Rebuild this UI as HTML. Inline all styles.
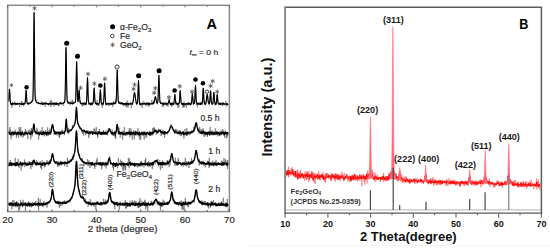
<!DOCTYPE html>
<html><head><meta charset="utf-8"><style>
html,body{margin:0;padding:0;background:#fff;width:550px;height:250px;overflow:hidden}
svg{display:block}
text{font-family:"Liberation Sans",sans-serif}
.at{font-size:9.6px;fill:#222;stroke:#444;stroke-width:0.22px}
.bt{font-size:9px;font-weight:bold;fill:#111}
.rl{font-size:5.6px;fill:#111;stroke:#333;stroke-width:0.18px}
.lg{font-size:8.6px;fill:#222;stroke:#444;stroke-width:0.22px}
.lb{font-size:9.1px;font-weight:bold;fill:#1a1a1a}
</style></head><body>
<svg width="550" height="250" viewBox="0 0 550 250">
<rect width="550" height="250" fill="#fff"/>
<g>
<polyline points="8.60,101.79 8.90,96.59 9.20,91.53 9.47,89.48 9.50,88.95 9.80,92.63 10.10,98.32 10.40,102.75 10.70,102.93 11.00,103.91 11.30,104.75 11.60,103.62 11.90,107.83 12.20,104.18 12.50,102.09 12.80,104.16 13.10,104.79 13.40,104.15 13.70,103.98 14.00,103.00 14.30,105.55 14.60,104.83 14.90,101.42 15.20,102.68 15.50,104.26 15.80,104.29 16.10,103.34 16.40,104.58 16.70,104.49 17.00,102.77 17.30,103.98 17.60,105.04 17.90,102.87 18.20,103.65 18.50,103.01 18.80,104.15 19.10,103.79 19.40,105.43 19.70,107.08 20.00,104.37 20.30,104.17 20.60,103.42 20.90,103.99 21.20,103.60 21.50,100.94 21.80,105.34 22.10,104.25 22.40,102.10 22.70,103.12 23.00,103.46 23.30,102.77 23.60,105.93 23.90,104.44 24.20,104.56 24.50,104.44 24.80,103.56 25.10,102.45 25.40,100.91 25.70,95.30 26.00,91.96 26.10,90.12 26.30,92.84 26.60,97.24 26.90,102.40 27.20,103.77 27.50,103.19 27.80,104.60 28.10,104.82 28.40,102.82 28.70,104.80 29.00,103.65 29.30,103.76 29.60,103.19 29.90,103.15 30.20,104.18 30.50,102.70 30.80,103.08 31.10,102.14 31.40,102.18 31.70,100.36 32.00,101.57 32.30,101.57 32.60,100.71 32.90,99.30 33.20,89.86 33.50,66.83 33.80,30.63 34.08,12.47 34.10,12.63 34.40,34.01 34.70,70.31 35.00,92.20 35.30,98.63 35.60,100.10 35.90,99.92 36.20,100.89 36.50,99.69 36.80,102.49 37.10,102.66 37.40,102.37 37.70,102.58 38.00,101.81 38.30,102.06 38.60,103.53 38.90,103.01 39.20,103.69 39.50,103.16 39.80,103.24 40.10,103.42 40.40,103.85 40.70,104.36 41.00,104.94 41.30,102.59 41.60,101.21 41.90,103.48 42.20,103.79 42.50,102.08 42.80,102.68 43.10,104.71 43.40,102.70 43.70,104.77 44.00,104.82 44.30,102.91 44.60,101.75 44.90,103.36 45.20,106.90 45.50,103.35 45.80,103.21 46.10,102.10 46.40,103.12 46.70,103.10 47.00,103.63 47.30,104.07 47.60,103.30 47.90,104.40 48.20,103.26 48.50,105.00 48.80,105.27 49.10,105.20 49.40,103.79 49.70,102.55 50.00,103.21 50.30,101.09 50.60,104.38 50.90,106.99 51.20,99.86 51.50,104.29 51.80,102.52 52.10,102.54 52.40,103.95 52.70,104.08 53.00,102.71 53.30,102.08 53.60,104.39 53.90,104.28 54.20,106.65 54.50,103.82 54.80,102.74 55.10,103.94 55.40,105.07 55.70,102.33 56.00,104.67 56.30,103.59 56.60,103.76 56.90,103.31 57.20,103.94 57.50,103.81 57.80,104.17 58.10,103.35 58.40,106.22 58.70,103.13 59.00,106.11 59.30,104.59 59.60,102.72 59.90,103.30 60.20,102.61 60.50,101.64 60.80,102.90 61.10,103.84 61.40,104.31 61.70,103.36 62.00,103.56 62.30,103.25 62.60,103.42 62.90,105.96 63.20,105.61 63.50,102.68 63.80,103.33 64.10,102.57 64.40,101.87 64.70,102.09 65.00,98.23 65.30,87.92 65.60,68.39 65.90,48.98 66.01,47.91 66.20,52.61 66.50,74.04 66.80,92.71 67.10,99.95 67.40,101.38 67.70,103.82 68.00,103.17 68.30,102.42 68.60,102.63 68.90,102.57 69.20,102.37 69.50,102.94 69.80,103.78 70.10,102.19 70.40,105.09 70.70,101.31 71.00,102.32 71.30,103.84 71.60,102.71 71.90,102.78 72.20,99.68 72.50,102.66 72.80,100.82 73.10,102.17 73.40,102.57 73.70,103.18 74.00,102.78 74.30,102.69 74.60,102.94 74.90,102.10 75.20,102.21 75.50,100.86 75.80,98.51 76.10,84.70 76.40,68.18 76.65,61.74 76.70,61.51 77.00,73.60 77.30,89.69 77.60,98.70 77.90,102.41 78.20,100.64 78.50,98.91 78.80,92.66 79.09,90.35 79.10,89.73 79.40,93.89 79.70,98.86 80.00,102.12 80.30,101.77 80.60,100.78 80.90,104.03 81.20,103.12 81.50,104.72 81.80,103.28 82.10,104.43 82.40,106.79 82.70,102.82 83.00,105.17 83.30,103.79 83.60,105.11 83.90,103.66 84.20,105.63 84.50,103.83 84.80,101.81 85.10,104.24 85.40,103.85 85.70,104.38 86.00,104.83 86.30,103.56 86.60,101.08 86.90,95.21 87.20,83.68 87.50,77.47 87.51,77.86 87.80,83.32 88.10,93.98 88.40,100.77 88.70,101.03 89.00,103.71 89.30,104.36 89.60,102.92 89.90,103.99 90.20,103.94 90.50,105.76 90.80,102.65 91.10,102.74 91.40,105.17 91.70,103.97 92.00,101.94 92.30,104.89 92.60,103.94 92.90,103.73 93.20,103.29 93.50,99.64 93.80,92.84 94.10,88.21 94.16,88.13 94.40,90.02 94.70,96.22 95.00,101.35 95.30,101.80 95.60,104.01 95.90,103.41 96.20,102.34 96.50,105.14 96.80,105.01 97.10,99.96 97.40,102.58 97.70,105.89 98.00,103.51 98.30,104.58 98.60,103.18 98.90,103.66 99.20,105.95 99.50,102.35 99.80,96.43 100.10,92.76 100.37,89.41 100.40,88.94 100.70,93.79 101.00,98.63 101.30,103.25 101.60,104.55 101.90,102.96 102.20,107.80 102.50,103.29 102.80,105.60 103.10,103.81 103.40,105.11 103.70,100.18 104.00,95.87 104.30,87.02 104.58,82.70 104.60,83.25 104.90,87.60 105.20,97.10 105.50,102.01 105.80,103.34 106.10,105.58 106.40,103.72 106.70,102.85 107.00,104.41 107.30,103.59 107.60,104.03 107.90,104.06 108.20,105.31 108.50,103.52 108.80,104.89 109.10,105.93 109.40,103.58 109.70,104.19 110.00,103.97 110.30,105.43 110.60,103.65 110.90,103.72 111.20,103.11 111.50,104.33 111.80,102.29 112.10,103.79 112.40,103.34 112.70,106.82 113.00,104.54 113.30,101.06 113.60,104.23 113.90,103.71 114.20,102.59 114.50,103.99 114.80,103.60 115.10,103.90 115.40,99.55 115.70,103.89 116.00,101.86 116.30,100.75 116.60,91.66 116.90,77.57 117.20,69.92 117.22,69.78 117.50,76.63 117.80,89.52 118.10,98.99 118.40,102.02 118.70,103.39 119.00,101.59 119.30,102.39 119.60,102.60 119.90,101.31 120.20,103.77 120.50,103.35 120.80,103.34 121.10,103.82 121.40,103.23 121.70,102.34 122.00,102.10 122.30,102.55 122.60,104.82 122.90,103.12 123.20,103.82 123.50,106.14 123.80,103.50 124.10,103.14 124.40,104.19 124.70,103.49 125.00,105.70 125.30,103.13 125.60,106.36 125.90,104.59 126.20,104.95 126.50,103.96 126.80,107.27 127.10,100.50 127.40,102.51 127.70,106.10 128.00,107.78 128.30,104.04 128.60,105.46 128.90,104.96 129.20,103.23 129.50,103.89 129.80,104.35 130.10,103.54 130.40,102.09 130.70,103.58 131.00,103.93 131.30,107.81 131.60,105.72 131.90,105.55 132.20,105.32 132.50,103.42 132.80,103.38 133.10,102.28 133.40,100.37 133.70,96.53 134.00,94.61 134.30,93.44 134.51,92.34 134.60,92.67 134.90,93.57 135.20,95.40 135.50,98.67 135.80,100.55 136.10,102.55 136.40,102.67 136.70,103.20 137.00,104.26 137.30,103.56 137.60,101.03 137.90,94.72 138.20,85.84 138.50,80.48 138.50,80.73 138.80,86.06 139.10,95.73 139.40,100.32 139.70,103.45 140.00,102.24 140.30,104.46 140.60,103.86 140.90,104.11 141.20,104.04 141.50,103.61 141.80,104.36 142.10,107.84 142.40,103.90 142.70,103.46 143.00,101.18 143.30,104.77 143.60,103.94 143.90,103.22 144.20,104.63 144.50,104.46 144.80,104.71 145.10,104.90 145.40,103.55 145.70,106.15 146.00,106.11 146.30,105.79 146.60,102.53 146.90,104.30 147.20,102.20 147.50,105.13 147.80,105.22 148.10,103.88 148.40,103.74 148.70,106.89 149.00,104.34 149.30,103.66 149.60,105.60 149.90,103.78 150.20,105.14 150.50,103.88 150.80,103.77 151.10,103.78 151.40,103.16 151.70,99.87 152.00,102.93 152.30,103.58 152.60,102.56 152.90,103.85 153.20,101.46 153.50,103.11 153.80,100.06 154.10,103.86 154.40,101.04 154.70,99.49 155.00,97.33 155.30,97.02 155.35,97.21 155.60,97.60 155.90,98.93 156.20,100.76 156.50,100.22 156.80,103.32 157.10,101.99 157.40,104.34 157.70,102.54 158.00,99.42 158.30,91.96 158.60,82.30 158.90,76.20 158.90,75.35 159.20,81.08 159.50,92.83 159.80,99.43 160.10,102.72 160.40,102.65 160.70,101.32 161.00,103.23 161.30,103.01 161.60,102.99 161.90,104.58 162.20,106.87 162.50,103.24 162.80,101.92 163.10,102.37 163.40,103.22 163.70,106.53 164.00,102.95 164.30,103.92 164.60,104.00 164.90,103.73 165.20,102.08 165.50,103.24 165.80,103.35 166.10,103.83 166.40,105.91 166.70,104.37 167.00,102.36 167.30,105.38 167.60,104.03 167.90,106.61 168.20,105.83 168.50,101.30 168.80,101.93 169.10,99.85 169.10,99.32 169.40,101.25 169.70,99.30 170.00,103.85 170.30,104.76 170.60,103.53 170.90,104.80 171.20,104.00 171.50,106.98 171.80,103.19 172.10,101.76 172.40,105.58 172.70,103.17 173.00,103.68 173.30,103.62 173.60,105.08 173.90,104.58 174.20,102.02 174.50,97.85 174.80,95.52 174.86,94.36 175.10,95.71 175.40,99.70 175.70,103.25 176.00,102.24 176.30,101.40 176.60,103.94 176.90,103.49 177.20,105.19 177.50,103.73 177.80,107.85 178.10,104.57 178.40,104.24 178.70,106.70 179.00,107.45 179.30,103.63 179.60,98.65 179.90,93.00 180.18,90.72 180.20,90.69 180.50,94.07 180.80,99.85 181.10,102.11 181.40,104.05 181.70,104.98 182.00,103.70 182.30,104.14 182.60,104.72 182.90,107.88 183.20,103.25 183.50,107.04 183.80,105.10 184.10,101.43 184.40,107.09 184.70,103.79 185.00,104.99 185.30,103.11 185.60,104.58 185.90,104.60 186.20,107.88 186.50,104.14 186.80,103.09 187.10,105.09 187.40,103.00 187.70,104.43 188.00,103.72 188.30,105.39 188.60,102.11 188.90,102.50 189.20,103.40 189.50,103.30 189.80,104.92 190.10,103.08 190.40,105.74 190.70,103.99 191.00,104.65 191.30,102.07 191.60,101.68 191.90,98.50 192.20,94.41 192.38,93.26 192.50,94.96 192.80,97.59 193.10,102.07 193.40,103.78 193.70,102.25 194.00,103.09 194.30,103.48 194.60,101.70 194.90,97.06 195.20,89.37 195.48,84.99 195.50,85.00 195.80,89.83 196.10,97.76 196.40,104.42 196.70,104.94 197.00,104.02 197.30,106.29 197.60,107.38 197.90,102.19 198.20,104.33 198.50,102.94 198.80,103.74 199.10,104.28 199.40,104.01 199.70,104.86 200.00,101.66 200.30,103.62 200.60,103.71 200.90,102.56 201.20,101.81 201.50,103.22 201.80,103.51 202.10,102.16 202.40,102.35 202.70,97.15 203.00,91.07 203.24,87.98 203.30,89.19 203.60,92.13 203.90,100.26 204.20,102.41 204.50,100.05 204.80,104.17 205.10,101.77 205.40,104.65 205.70,102.77 206.00,102.48 206.30,102.11 206.60,97.57 206.90,95.93 207.20,94.76 207.23,94.39 207.50,95.25 207.80,97.83 208.10,101.57 208.40,102.20 208.70,102.22 209.00,104.54 209.30,101.95 209.60,103.92 209.90,100.48 210.20,94.96 210.50,91.06 210.56,90.46 210.80,92.70 211.10,98.55 211.40,102.75 211.70,103.41 212.00,103.76 212.30,103.66 212.60,104.35 212.90,103.57 213.20,100.27 213.50,96.77 213.80,92.27 213.88,92.21 214.10,94.00 214.40,98.80 214.70,101.88 215.00,105.46 215.30,103.78 215.60,104.79 215.90,105.07 216.20,101.66 216.50,104.39 216.80,97.45 217.10,94.93 217.21,94.45 217.40,95.34 217.70,99.20 218.00,103.07 218.30,103.77 218.60,103.10 218.90,103.35 219.20,103.43 219.50,103.47 219.80,104.30 220.10,103.32 220.40,103.95 220.70,102.16 221.00,103.66 221.30,105.34 221.60,104.62 221.90,103.16 222.20,102.99 222.50,106.06 222.80,104.25 223.10,102.56 223.40,104.40 223.70,103.90 224.00,105.19 224.30,104.18 224.60,103.87 224.90,103.37 225.20,102.84 225.50,102.01 225.80,100.80 226.10,106.35 226.40,105.04 226.70,103.36 227.00,104.86 227.30,103.59 227.60,103.58 227.90,105.54 228.20,104.54" fill="none" stroke="#444" stroke-width="0.5"/><polyline points="8.60,101.40 8.90,97.45 9.20,91.83 9.47,89.37 9.50,89.38 9.80,92.74 10.10,98.43 10.40,102.30 10.70,103.78 11.00,104.25 11.30,104.74 11.60,103.62 11.90,103.88 12.20,104.55 12.50,103.33 12.80,103.98 13.10,103.58 13.40,103.84 13.70,104.04 14.00,103.09 14.30,103.45 14.60,103.29 14.90,103.75 15.20,103.57 15.50,104.44 15.80,103.60 16.10,104.51 16.40,103.67 16.70,103.94 17.00,103.85 17.30,103.83 17.60,103.38 17.90,103.95 18.20,103.97 18.50,103.91 18.80,104.06 19.10,103.49 19.40,103.69 19.70,103.55 20.00,103.14 20.30,103.94 20.60,103.55 20.90,103.76 21.20,104.66 21.50,103.87 21.80,103.81 22.10,104.18 22.40,104.24 22.70,104.45 23.00,103.55 23.30,104.43 23.60,103.68 23.90,103.28 24.20,103.35 24.50,104.11 24.80,103.86 25.10,103.30 25.40,100.20 25.70,95.20 26.00,90.69 26.10,90.29 26.30,91.72 26.60,97.13 26.90,101.62 27.20,102.84 27.50,103.87 27.80,103.26 28.10,103.54 28.40,103.67 28.70,103.19 29.00,102.97 29.30,103.42 29.60,103.07 29.90,102.86 30.20,103.13 30.50,102.73 30.80,102.76 31.10,102.20 31.40,102.44 31.70,101.76 32.00,101.60 32.30,100.93 32.60,100.97 32.90,98.86 33.20,90.51 33.50,66.46 33.80,30.13 34.08,12.48 34.10,12.56 34.40,34.20 34.70,70.27 35.00,92.15 35.30,99.10 35.60,100.88 35.90,101.14 36.20,101.74 36.50,102.11 36.80,102.63 37.10,102.53 37.40,102.46 37.70,102.98 38.00,102.93 38.30,103.39 38.60,102.93 38.90,103.66 39.20,103.33 39.50,103.41 39.80,103.73 40.10,103.23 40.40,103.28 40.70,103.68 41.00,103.49 41.30,103.56 41.60,103.42 41.90,103.48 42.20,103.93 42.50,104.36 42.80,103.12 43.10,104.23 43.40,103.95 43.70,104.14 44.00,103.76 44.30,103.42 44.60,103.63 44.90,103.36 45.20,103.08 45.50,103.70 45.80,103.83 46.10,103.63 46.40,103.82 46.70,103.15 47.00,104.16 47.30,103.69 47.60,103.77 47.90,104.04 48.20,103.54 48.50,104.77 48.80,104.25 49.10,104.25 49.40,103.83 49.70,103.50 50.00,103.97 50.30,103.49 50.60,103.86 50.90,103.86 51.20,104.25 51.50,103.94 51.80,103.83 52.10,104.31 52.40,103.73 52.70,103.56 53.00,103.57 53.30,104.33 53.60,103.78 53.90,103.54 54.20,103.00 54.50,103.35 54.80,103.87 55.10,103.97 55.40,104.38 55.70,103.47 56.00,103.92 56.30,104.22 56.60,102.85 56.90,104.59 57.20,103.27 57.50,103.26 57.80,104.04 58.10,103.83 58.40,104.12 58.70,103.89 59.00,103.74 59.30,103.56 59.60,103.30 59.90,103.78 60.20,102.84 60.50,103.44 60.80,103.76 61.10,103.03 61.40,103.69 61.70,103.68 62.00,103.30 62.30,103.15 62.60,103.29 62.90,103.21 63.20,102.80 63.50,103.35 63.80,102.99 64.10,102.62 64.40,102.43 64.70,101.70 65.00,98.40 65.30,88.34 65.60,67.61 65.90,49.13 66.01,47.41 66.20,52.79 66.50,74.23 66.80,92.35 67.10,99.39 67.40,101.85 67.70,102.19 68.00,101.80 68.30,102.98 68.60,102.66 68.90,102.61 69.20,103.08 69.50,102.86 69.80,103.23 70.10,103.04 70.40,102.90 70.70,102.85 71.00,103.54 71.30,103.31 71.60,103.02 71.90,103.08 72.20,102.96 72.50,103.98 72.80,103.34 73.10,103.23 73.40,103.62 73.70,102.84 74.00,102.61 74.30,102.69 74.60,102.77 74.90,102.50 75.20,102.19 75.50,101.28 75.80,96.80 76.10,84.87 76.40,68.32 76.65,61.89 76.70,62.19 77.00,73.71 77.30,89.95 77.60,98.87 77.90,101.42 78.20,100.79 78.50,97.72 78.80,92.65 79.09,90.07 79.10,90.08 79.40,93.28 79.70,98.88 80.00,101.95 80.30,103.21 80.60,103.35 80.90,103.10 81.20,103.64 81.50,103.57 81.80,104.03 82.10,103.80 82.40,103.13 82.70,103.57 83.00,103.60 83.30,103.63 83.60,103.20 83.90,103.04 84.20,103.64 84.50,103.84 84.80,103.25 85.10,104.44 85.40,103.99 85.70,103.55 86.00,104.49 86.30,102.81 86.60,101.08 86.90,94.71 87.20,83.98 87.50,77.70 87.51,77.69 87.80,83.16 88.10,93.98 88.40,101.03 88.70,102.90 89.00,104.07 89.30,103.40 89.60,103.45 89.90,104.07 90.20,103.62 90.50,104.54 90.80,104.35 91.10,103.16 91.40,103.88 91.70,103.76 92.00,104.67 92.30,103.60 92.60,103.56 92.90,103.58 93.20,102.62 93.50,99.15 93.80,92.90 94.10,88.11 94.16,87.93 94.40,90.30 94.70,96.83 95.00,101.41 95.30,102.93 95.60,103.66 95.90,103.34 96.20,103.32 96.50,104.27 96.80,103.78 97.10,103.61 97.40,103.91 97.70,103.61 98.00,103.87 98.30,104.55 98.60,103.82 98.90,103.57 99.20,103.13 99.50,102.39 99.80,98.30 100.10,92.56 100.37,89.93 100.40,89.98 100.70,93.63 101.00,99.39 101.30,102.71 101.60,103.54 101.90,104.32 102.20,103.82 102.50,103.01 102.80,103.33 103.10,103.77 103.40,103.52 103.70,101.24 104.00,95.79 104.30,87.18 104.58,82.94 104.60,82.95 104.90,88.12 105.20,96.73 105.50,101.71 105.80,103.97 106.10,104.19 106.40,104.49 106.70,104.00 107.00,103.88 107.30,103.92 107.60,103.95 107.90,103.11 108.20,103.76 108.50,103.68 108.80,103.96 109.10,103.93 109.40,103.68 109.70,103.63 110.00,103.27 110.30,103.89 110.60,103.59 110.90,103.62 111.20,104.15 111.50,104.12 111.80,103.59 112.10,104.32 112.40,103.93 112.70,103.65 113.00,103.26 113.30,103.23 113.60,103.84 113.90,102.75 114.20,103.98 114.50,103.54 114.80,103.09 115.10,103.62 115.40,103.04 115.70,102.39 116.00,102.01 116.30,99.43 116.60,91.55 116.90,78.28 117.20,70.22 117.22,70.18 117.50,76.61 117.80,90.01 118.10,98.83 118.40,101.75 118.70,102.13 119.00,103.22 119.30,102.97 119.60,103.47 119.90,103.27 120.20,102.86 120.50,103.18 120.80,104.00 121.10,103.28 121.40,103.73 121.70,102.70 122.00,103.31 122.30,104.00 122.60,102.94 122.90,104.09 123.20,103.51 123.50,103.48 123.80,104.29 124.10,103.55 124.40,104.19 124.70,103.62 125.00,103.93 125.30,104.21 125.60,104.23 125.90,103.72 126.20,102.92 126.50,104.51 126.80,103.61 127.10,104.34 127.40,103.52 127.70,103.68 128.00,103.89 128.30,103.84 128.60,104.64 128.90,103.17 129.20,103.65 129.50,103.97 129.80,104.04 130.10,103.88 130.40,103.95 130.70,104.28 131.00,103.65 131.30,103.65 131.60,103.82 131.90,104.09 132.20,103.15 132.50,104.06 132.80,102.62 133.10,101.35 133.40,99.52 133.70,97.03 134.00,94.62 134.30,92.94 134.51,92.57 134.60,92.65 134.90,93.80 135.20,96.04 135.50,98.64 135.80,100.43 136.10,102.25 136.40,103.53 136.70,104.22 137.00,103.67 137.30,102.97 137.60,101.42 137.90,95.61 138.20,85.91 138.50,80.57 138.50,80.56 138.80,85.72 139.10,95.42 139.40,101.69 139.70,103.61 140.00,104.81 140.30,103.87 140.60,105.02 140.90,103.45 141.20,104.46 141.50,104.32 141.80,104.20 142.10,103.57 142.40,103.82 142.70,103.40 143.00,103.89 143.30,103.98 143.60,104.10 143.90,103.39 144.20,103.58 144.50,103.01 144.80,103.89 145.10,103.45 145.40,104.28 145.70,103.64 146.00,104.06 146.30,103.70 146.60,103.84 146.90,103.77 147.20,103.37 147.50,104.19 147.80,103.50 148.10,104.35 148.40,102.86 148.70,103.64 149.00,104.16 149.30,104.16 149.60,103.05 149.90,103.89 150.20,103.88 150.50,103.91 150.80,103.65 151.10,103.48 151.40,103.86 151.70,104.00 152.00,104.15 152.30,103.72 152.60,103.42 152.90,104.00 153.20,103.14 153.50,103.24 153.80,102.89 154.10,102.27 154.40,100.95 154.70,99.40 155.00,97.56 155.30,96.73 155.35,96.62 155.60,96.95 155.90,98.33 156.20,99.99 156.50,101.96 156.80,102.80 157.10,103.06 157.40,102.81 157.70,102.00 158.00,99.91 158.30,92.75 158.60,81.42 158.90,75.29 158.90,75.29 159.20,81.47 159.50,92.80 159.80,100.00 160.10,102.48 160.40,102.73 160.70,103.55 161.00,103.41 161.30,103.36 161.60,103.60 161.90,103.31 162.20,103.45 162.50,104.05 162.80,103.99 163.10,103.71 163.40,103.14 163.70,104.65 164.00,103.91 164.30,104.12 164.60,103.40 164.90,104.01 165.20,104.03 165.50,103.94 165.80,104.29 166.10,103.16 166.40,104.32 166.70,103.70 167.00,103.66 167.30,103.86 167.60,104.03 167.90,103.89 168.20,103.34 168.50,102.62 168.80,101.36 169.10,100.06 169.10,99.90 169.40,101.09 169.70,102.74 170.00,103.23 170.30,104.32 170.60,103.35 170.90,104.10 171.20,104.65 171.50,103.43 171.80,103.72 172.10,103.58 172.40,104.44 172.70,103.62 173.00,103.86 173.30,104.05 173.60,104.18 173.90,103.46 174.20,101.00 174.50,97.30 174.80,94.71 174.86,94.58 175.10,95.99 175.40,99.70 175.70,102.61 176.00,104.16 176.30,103.27 176.60,103.80 176.90,103.26 177.20,104.41 177.50,103.95 177.80,103.50 178.10,103.22 178.40,103.92 178.70,103.91 179.00,103.57 179.30,102.80 179.60,98.73 179.90,93.38 180.18,90.71 180.20,90.69 180.50,93.99 180.80,99.60 181.10,102.27 181.40,103.45 181.70,103.37 182.00,104.09 182.30,104.64 182.60,103.33 182.90,103.90 183.20,104.96 183.50,103.64 183.80,104.14 184.10,104.13 184.40,103.69 184.70,104.26 185.00,104.04 185.30,103.85 185.60,103.78 185.90,104.41 186.20,103.95 186.50,103.59 186.80,103.69 187.10,104.01 187.40,104.07 187.70,103.33 188.00,104.25 188.30,103.41 188.60,103.17 188.90,103.76 189.20,104.03 189.50,104.28 189.80,103.43 190.10,103.75 190.40,104.31 190.70,103.87 191.00,104.30 191.30,103.75 191.60,101.68 191.90,98.49 192.20,94.68 192.38,93.71 192.50,94.25 192.80,97.81 193.10,101.41 193.40,104.18 193.70,103.48 194.00,103.60 194.30,103.43 194.60,101.76 194.90,96.80 195.20,89.08 195.48,85.38 195.50,85.42 195.80,90.07 196.10,97.75 196.40,102.35 196.70,103.06 197.00,104.17 197.30,103.71 197.60,103.47 197.90,103.92 198.20,104.16 198.50,103.50 198.80,103.47 199.10,104.14 199.40,104.31 199.70,103.68 200.00,103.98 200.30,103.90 200.60,104.43 200.90,104.01 201.20,103.17 201.50,103.56 201.80,104.34 202.10,103.99 202.40,102.08 202.70,97.00 203.00,90.54 203.24,88.20 203.30,88.36 203.60,93.03 203.90,99.25 204.20,102.85 204.50,103.38 204.80,103.72 205.10,104.66 205.40,103.77 205.70,103.99 206.00,102.81 206.30,101.15 206.60,98.50 206.90,95.93 207.20,94.52 207.23,94.51 207.50,95.41 207.80,97.87 208.10,100.82 208.40,102.26 208.70,102.88 209.00,103.86 209.30,103.90 209.60,102.55 209.90,100.12 210.20,94.88 210.50,91.08 210.56,90.96 210.80,93.02 211.10,98.33 211.40,102.41 211.70,103.08 212.00,104.33 212.30,103.93 212.60,103.96 212.90,103.79 213.20,100.80 213.50,96.26 213.80,92.60 213.88,92.36 214.10,93.85 214.40,98.38 214.70,101.90 215.00,102.90 215.30,104.17 215.60,103.84 215.90,104.30 216.20,103.16 216.50,101.52 216.80,97.95 217.10,94.75 217.21,94.56 217.40,95.31 217.70,99.34 218.00,102.64 218.30,103.41 218.60,103.92 218.90,104.52 219.20,103.90 219.50,103.07 219.80,103.62 220.10,104.41 220.40,103.51 220.70,104.39 221.00,103.72 221.30,104.19 221.60,103.69 221.90,103.62 222.20,103.77 222.50,103.04 222.80,104.13 223.10,103.03 223.40,103.87 223.70,103.45 224.00,104.04 224.30,104.41 224.60,103.90 224.90,103.77 225.20,104.01 225.50,104.09 225.80,104.25 226.10,103.71 226.40,104.37 226.70,103.49 227.00,103.84 227.30,104.80 227.60,103.99 227.90,104.20 228.20,104.07" fill="none" stroke="#000" stroke-width="1.1" stroke-linejoin="round"/><polyline points="8.60,131.12 8.90,131.65 9.20,132.97 9.50,134.00 9.80,127.00 10.10,132.52 10.40,133.09 10.70,129.38 11.00,139.39 11.30,134.24 11.60,135.24 11.90,132.67 12.20,133.83 12.50,131.73 12.80,136.34 13.10,134.11 13.40,133.18 13.70,134.85 14.00,133.42 14.30,130.77 14.60,131.45 14.90,132.09 15.20,133.67 15.50,130.25 15.80,129.71 16.10,134.75 16.40,137.81 16.70,133.82 17.00,135.39 17.30,134.26 17.60,133.17 17.90,133.05 18.20,132.69 18.50,137.87 18.80,135.10 19.10,127.01 19.40,133.56 19.70,129.47 20.00,132.20 20.30,132.58 20.60,127.35 20.90,127.01 21.20,137.08 21.50,132.82 21.80,134.03 22.10,133.36 22.40,132.76 22.70,130.78 23.00,137.68 23.30,134.56 23.60,135.29 23.90,133.12 24.20,133.13 24.50,134.40 24.80,131.31 25.10,135.76 25.40,129.10 25.70,133.65 26.00,133.70 26.30,134.14 26.60,133.87 26.90,130.63 27.20,133.46 27.50,133.10 27.80,138.87 28.10,135.24 28.40,133.86 28.70,129.83 29.00,130.76 29.30,134.59 29.60,133.40 29.90,130.01 30.20,129.58 30.50,133.61 30.80,139.48 31.10,133.95 31.40,127.96 31.70,132.41 32.00,136.53 32.30,136.29 32.60,131.48 32.90,131.26 33.20,128.53 33.50,126.20 33.80,123.58 33.86,125.40 34.10,125.03 34.40,128.74 34.70,130.25 35.00,131.10 35.30,132.84 35.60,131.49 35.90,130.94 36.20,134.12 36.50,131.81 36.80,127.85 37.10,129.83 37.40,131.66 37.70,130.42 38.00,131.33 38.30,131.98 38.60,139.59 38.90,136.18 39.20,134.06 39.50,133.49 39.80,132.26 40.10,130.72 40.40,134.02 40.70,130.73 41.00,132.23 41.30,132.63 41.60,131.02 41.90,128.47 42.20,127.01 42.50,133.35 42.80,134.04 43.10,133.29 43.40,135.38 43.70,133.97 44.00,132.57 44.30,136.49 44.60,133.41 44.90,131.92 45.20,134.85 45.50,132.16 45.80,130.34 46.10,134.21 46.40,136.20 46.70,133.49 47.00,135.88 47.30,133.06 47.60,127.45 47.90,132.30 48.20,136.21 48.50,131.97 48.80,132.91 49.10,130.28 49.40,133.70 49.70,134.13 50.00,128.36 50.30,133.18 50.60,134.94 50.90,134.48 51.20,130.46 51.50,131.78 51.80,126.95 52.10,125.42 52.40,124.20 52.48,125.44 52.70,125.04 53.00,124.94 53.30,127.09 53.60,130.42 53.90,134.43 54.20,133.50 54.50,130.13 54.80,130.81 55.10,131.95 55.40,134.10 55.70,132.74 56.00,131.54 56.30,132.88 56.60,134.12 56.90,134.30 57.20,135.45 57.50,134.55 57.80,133.12 58.10,131.90 58.40,133.93 58.70,132.16 59.00,136.83 59.30,133.93 59.60,138.04 59.90,132.11 60.20,132.19 60.50,132.62 60.80,131.19 61.10,131.69 61.40,130.19 61.70,130.95 62.00,131.29 62.30,131.41 62.60,129.80 62.90,131.87 63.20,131.73 63.50,131.28 63.80,131.97 64.10,131.91 64.40,135.05 64.70,132.53 65.00,131.48 65.30,129.92 65.60,127.06 65.90,121.88 66.20,119.92 66.23,119.06 66.50,121.52 66.80,124.13 67.10,129.79 67.40,132.60 67.70,131.73 68.00,132.86 68.30,134.09 68.60,127.82 68.90,132.20 69.20,131.60 69.50,132.56 69.80,130.10 70.10,129.07 70.40,130.84 70.70,129.69 71.00,130.95 71.30,130.06 71.60,129.78 71.90,130.00 72.20,128.75 72.50,125.08 72.80,126.64 73.10,127.55 73.40,127.30 73.70,125.95 74.00,126.29 74.30,125.38 74.60,125.54 74.90,124.07 75.20,121.66 75.50,119.90 75.80,115.77 76.10,110.32 76.40,106.76 76.43,107.35 76.70,109.77 77.00,114.62 77.30,118.49 77.60,121.14 77.90,124.50 78.20,124.53 78.50,123.82 78.80,125.29 79.10,125.77 79.40,128.56 79.70,126.76 80.00,127.83 80.30,128.96 80.60,127.54 80.90,129.18 81.20,128.94 81.50,128.85 81.80,132.02 82.10,131.19 82.40,134.12 82.70,130.27 83.00,132.13 83.30,129.66 83.60,135.63 83.90,132.04 84.20,132.18 84.50,129.79 84.80,131.46 85.10,131.19 85.40,132.73 85.70,135.16 86.00,131.63 86.30,131.50 86.60,129.99 86.90,133.00 87.20,132.13 87.50,131.54 87.80,132.59 88.10,131.44 88.40,130.68 88.70,138.03 89.00,132.53 89.30,131.53 89.60,135.29 89.90,132.22 90.20,133.57 90.50,133.00 90.80,133.90 91.10,131.72 91.40,131.42 91.70,132.83 92.00,132.46 92.30,134.26 92.60,132.50 92.90,134.24 93.20,134.03 93.50,133.32 93.80,131.03 94.10,128.23 94.40,132.12 94.70,132.59 95.00,129.54 95.30,134.43 95.60,133.34 95.90,134.34 96.20,127.03 96.50,134.35 96.80,133.02 97.10,132.79 97.40,133.04 97.70,138.14 98.00,132.39 98.30,132.15 98.60,132.97 98.90,133.01 99.20,133.11 99.50,129.00 99.80,133.32 100.10,132.50 100.40,133.54 100.70,132.68 101.00,131.82 101.30,135.08 101.60,133.13 101.90,131.72 102.20,132.52 102.50,133.61 102.80,133.11 103.10,134.44 103.40,129.98 103.70,130.69 104.00,134.68 104.30,132.70 104.60,133.00 104.90,134.05 105.20,134.04 105.50,132.29 105.80,131.44 106.10,130.30 106.40,134.04 106.70,133.34 107.00,133.51 107.30,131.77 107.60,135.16 107.90,135.20 108.20,128.38 108.50,131.11 108.80,132.19 109.10,130.47 109.24,128.28 109.40,129.67 109.70,128.21 110.00,130.50 110.30,129.37 110.60,131.84 110.90,133.05 111.20,132.34 111.50,134.09 111.80,133.85 112.10,129.51 112.40,134.27 112.70,133.09 113.00,135.70 113.30,132.15 113.60,135.97 113.90,135.37 114.20,134.05 114.50,131.34 114.80,133.89 115.10,137.76 115.40,134.18 115.70,138.84 116.00,130.66 116.30,131.52 116.60,128.33 116.90,124.18 117.20,125.03 117.22,124.17 117.50,125.77 117.80,126.71 118.10,130.55 118.40,132.51 118.70,131.58 119.00,127.75 119.30,132.31 119.60,133.10 119.90,132.70 120.20,137.59 120.50,131.70 120.80,133.49 121.10,133.08 121.40,132.73 121.70,134.57 122.00,132.62 122.30,135.72 122.60,139.62 122.90,130.61 123.20,132.76 123.50,130.97 123.80,136.07 124.10,132.47 124.40,127.01 124.70,134.67 125.00,133.82 125.30,134.30 125.60,136.01 125.90,133.62 126.20,134.36 126.50,131.92 126.80,135.58 127.10,134.43 127.40,133.24 127.70,132.47 128.00,133.74 128.30,134.38 128.60,132.13 128.90,133.81 129.20,128.22 129.50,132.84 129.80,137.28 130.10,130.24 130.40,133.41 130.70,128.54 131.00,128.33 131.30,130.28 131.60,134.82 131.90,132.24 132.20,139.64 132.50,134.43 132.80,133.05 133.10,135.59 133.40,133.34 133.70,130.28 134.00,133.97 134.30,139.33 134.60,133.88 134.90,134.56 135.20,131.40 135.50,133.02 135.80,135.81 136.10,131.63 136.40,134.32 136.70,135.16 137.00,135.04 137.30,133.56 137.60,134.73 137.90,128.15 138.20,136.40 138.50,136.38 138.80,132.10 139.10,135.94 139.40,131.50 139.70,139.64 140.00,134.00 140.30,133.69 140.60,139.63 140.90,137.95 141.20,136.11 141.50,134.04 141.80,133.61 142.10,131.15 142.40,132.44 142.70,135.37 143.00,134.03 143.30,136.04 143.60,134.38 143.90,134.05 144.20,139.62 144.50,132.43 144.80,133.70 145.10,134.85 145.40,133.47 145.70,131.49 146.00,137.94 146.30,135.32 146.60,135.27 146.90,136.65 147.20,132.52 147.50,134.12 147.80,133.44 148.10,132.54 148.40,135.01 148.70,134.18 149.00,133.15 149.30,134.36 149.60,133.48 149.90,134.85 150.20,131.77 150.50,135.22 150.80,134.13 151.10,133.98 151.40,133.70 151.70,132.40 152.00,135.57 152.30,131.16 152.60,128.04 152.90,131.28 153.20,132.04 153.50,131.98 153.80,126.93 154.10,132.99 154.40,127.94 154.70,129.62 155.00,129.91 155.30,129.44 155.35,130.26 155.60,132.08 155.90,130.91 156.20,134.91 156.50,131.38 156.80,129.56 157.10,132.95 157.40,131.68 157.70,131.88 158.00,130.79 158.30,131.70 158.60,128.55 158.90,131.25 159.20,130.26 159.34,129.68 159.50,130.86 159.80,130.82 160.10,130.44 160.40,131.23 160.70,128.96 161.00,136.10 161.30,132.12 161.60,131.58 161.90,134.87 162.20,132.55 162.50,133.42 162.80,130.12 163.10,133.44 163.40,133.01 163.70,130.58 164.00,134.97 164.30,131.57 164.60,137.66 164.90,131.33 165.20,134.74 165.50,131.80 165.80,133.29 166.10,134.14 166.40,133.04 166.70,133.75 167.00,132.03 167.30,131.73 167.60,134.33 167.90,132.48 168.20,132.85 168.50,130.94 168.80,131.28 169.10,131.42 169.40,129.81 169.70,127.31 170.00,127.35 170.30,127.70 170.60,126.21 170.90,124.17 171.20,125.99 171.31,126.45 171.50,126.54 171.80,126.53 172.10,128.79 172.40,128.07 172.70,129.22 173.00,128.82 173.30,131.33 173.60,130.18 173.90,131.21 174.20,130.93 174.50,132.25 174.80,134.29 175.10,129.17 175.40,133.11 175.70,132.75 176.00,128.87 176.30,132.77 176.60,131.04 176.90,130.39 177.20,131.07 177.50,130.11 177.80,134.18 178.10,134.58 178.40,132.65 178.70,132.23 179.00,130.54 179.30,132.04 179.60,130.34 179.90,135.64 180.20,134.45 180.50,130.78 180.80,135.35 181.10,136.28 181.40,133.22 181.70,135.27 182.00,132.55 182.30,134.94 182.60,132.46 182.90,131.31 183.20,132.27 183.50,133.29 183.80,138.48 184.10,138.00 184.40,133.40 184.70,131.33 185.00,128.87 185.30,135.45 185.60,133.53 185.90,133.71 186.20,135.26 186.50,135.19 186.80,128.17 187.10,131.66 187.40,132.75 187.70,131.31 188.00,132.00 188.30,133.92 188.60,134.30 188.90,131.92 189.20,135.08 189.50,134.98 189.80,132.09 190.10,134.52 190.40,133.10 190.70,132.54 191.00,133.79 191.30,133.13 191.60,130.46 191.90,132.69 192.20,132.33 192.50,133.07 192.80,132.89 193.10,132.74 193.40,131.41 193.70,127.29 194.00,129.57 194.30,126.82 194.60,130.11 194.90,128.77 195.20,124.95 195.50,126.81 195.80,125.45 196.10,122.81 196.14,124.32 196.40,122.64 196.70,123.87 197.00,127.11 197.30,127.39 197.60,128.65 197.90,130.08 198.20,128.36 198.50,131.50 198.80,129.97 199.10,134.13 199.40,131.29 199.70,126.89 200.00,130.15 200.30,131.85 200.60,131.47 200.90,133.51 201.20,129.08 201.50,131.25 201.80,129.57 202.10,129.87 202.40,131.82 202.70,132.66 203.00,128.23 203.30,129.71 203.60,134.01 203.90,136.65 204.20,131.25 204.50,133.66 204.80,136.67 205.10,135.56 205.40,132.16 205.70,132.48 206.00,134.79 206.30,134.19 206.60,131.85 206.90,133.54 207.20,134.09 207.50,137.00 207.80,132.16 208.10,131.92 208.40,131.87 208.70,132.50 209.00,133.51 209.30,131.65 209.60,131.38 209.90,135.66 210.20,127.02 210.50,133.26 210.80,134.44 211.10,133.79 211.40,135.19 211.70,133.38 212.00,130.33 212.30,133.47 212.60,133.52 212.90,135.53 213.20,132.53 213.50,132.07 213.80,133.33 214.10,131.60 214.40,135.15 214.70,133.36 215.00,135.21 215.30,128.42 215.60,133.77 215.90,134.51 216.20,131.07 216.50,132.48 216.80,135.06 217.10,134.07 217.40,131.51 217.70,136.40 218.00,135.88 218.30,132.99 218.60,132.04 218.90,131.65 219.20,135.91 219.50,134.86 219.80,136.24 220.10,130.77 220.40,135.35 220.70,134.55 221.00,131.64 221.30,134.12 221.60,134.75 221.90,129.80 222.20,132.55 222.50,133.13 222.80,129.00 223.10,134.11 223.40,132.78 223.70,131.51 224.00,134.19 224.30,132.45 224.60,137.39 224.90,133.74 225.20,130.65 225.50,130.99 225.80,133.41 226.10,138.46 226.40,135.47 226.70,135.13 227.00,137.84 227.30,132.11 227.60,134.33 227.90,135.92 228.20,132.24" fill="none" stroke="#444" stroke-width="0.5"/><polyline points="8.60,132.78 8.90,131.85 9.20,133.82 9.50,133.92 9.80,133.14 10.10,133.64 10.40,134.64 10.70,134.15 11.00,133.89 11.30,133.88 11.60,132.72 11.90,134.08 12.20,132.14 12.50,133.12 12.80,133.04 13.10,132.08 13.40,133.28 13.70,134.58 14.00,133.11 14.30,132.46 14.60,133.29 14.90,133.99 15.20,133.50 15.50,133.36 15.80,132.31 16.10,133.73 16.40,133.72 16.70,134.35 17.00,134.46 17.30,133.87 17.60,132.14 17.90,132.29 18.20,132.54 18.50,133.57 18.80,132.77 19.10,134.33 19.40,133.53 19.70,133.62 20.00,133.91 20.30,133.60 20.60,132.31 20.90,135.17 21.20,134.43 21.50,134.48 21.80,132.80 22.10,131.98 22.40,132.23 22.70,132.57 23.00,134.00 23.30,134.01 23.60,134.43 23.90,134.93 24.20,133.73 24.50,133.61 24.80,133.08 25.10,133.09 25.40,132.49 25.70,133.72 26.00,133.58 26.30,133.04 26.60,132.74 26.90,133.68 27.20,134.30 27.50,133.40 27.80,133.55 28.10,132.93 28.40,133.15 28.70,133.10 29.00,133.12 29.30,132.89 29.60,133.62 29.90,134.29 30.20,132.63 30.50,134.36 30.80,133.03 31.10,133.06 31.40,131.74 31.70,131.54 32.00,133.78 32.30,132.28 32.60,132.81 32.90,130.87 33.20,128.52 33.50,126.04 33.80,124.46 33.86,124.16 34.10,124.94 34.40,127.54 34.70,130.61 35.00,131.80 35.30,132.36 35.60,132.19 35.90,133.68 36.20,131.99 36.50,132.39 36.80,133.41 37.10,133.38 37.40,133.11 37.70,134.08 38.00,132.39 38.30,132.43 38.60,132.99 38.90,133.34 39.20,133.05 39.50,134.75 39.80,132.85 40.10,133.75 40.40,132.86 40.70,133.52 41.00,132.96 41.30,133.00 41.60,134.46 41.90,133.03 42.20,134.52 42.50,132.74 42.80,132.93 43.10,134.08 43.40,131.47 43.70,132.05 44.00,133.28 44.30,133.61 44.60,133.67 44.90,133.02 45.20,132.21 45.50,133.85 45.80,133.57 46.10,132.42 46.40,133.30 46.70,134.55 47.00,133.32 47.30,132.37 47.60,132.92 47.90,132.95 48.20,133.47 48.50,133.87 48.80,132.53 49.10,132.73 49.40,133.93 49.70,133.71 50.00,134.09 50.30,131.98 50.60,132.04 50.90,132.50 51.20,130.42 51.50,129.22 51.80,127.19 52.10,125.41 52.40,124.72 52.48,124.55 52.70,124.81 53.00,126.14 53.30,128.08 53.60,129.38 53.90,130.93 54.20,131.52 54.50,131.38 54.80,133.64 55.10,134.05 55.40,133.90 55.70,131.82 56.00,133.34 56.30,133.53 56.60,132.64 56.90,133.60 57.20,132.24 57.50,132.26 57.80,132.42 58.10,132.49 58.40,132.28 58.70,133.61 59.00,132.21 59.30,132.61 59.60,132.48 59.90,134.37 60.20,132.27 60.50,133.17 60.80,134.04 61.10,132.04 61.40,132.25 61.70,132.55 62.00,131.89 62.30,133.50 62.60,132.39 62.90,133.33 63.20,132.96 63.50,132.61 63.80,133.15 64.10,132.34 64.40,133.10 64.70,131.56 65.00,131.39 65.30,130.44 65.60,126.16 65.90,121.86 66.20,119.29 66.23,119.26 66.50,120.95 66.80,125.45 67.10,128.73 67.40,131.39 67.70,131.84 68.00,131.45 68.30,131.53 68.60,131.78 68.90,131.06 69.20,130.53 69.50,131.14 69.80,130.52 70.10,130.51 70.40,130.47 70.70,130.48 71.00,130.55 71.30,129.79 71.60,129.41 71.90,129.24 72.20,128.72 72.50,127.89 72.80,127.66 73.10,127.07 73.40,126.83 73.70,126.30 74.00,125.56 74.30,124.79 74.60,124.28 74.90,123.41 75.20,122.33 75.50,119.92 75.80,115.60 76.10,110.33 76.40,107.52 76.43,107.49 76.70,109.54 77.00,114.65 77.30,119.33 77.60,121.98 77.90,123.38 78.20,124.17 78.50,124.74 78.80,125.42 79.10,126.06 79.40,126.69 79.70,127.13 80.00,127.88 80.30,128.05 80.60,128.15 80.90,129.03 81.20,129.29 81.50,129.88 81.80,130.11 82.10,130.22 82.40,130.45 82.70,130.67 83.00,130.56 83.30,130.49 83.60,130.80 83.90,131.26 84.20,130.39 84.50,131.34 84.80,131.18 85.10,131.72 85.40,131.44 85.70,131.97 86.00,131.90 86.30,132.79 86.60,131.97 86.90,132.09 87.20,132.29 87.50,131.29 87.80,131.76 88.10,133.28 88.40,132.78 88.70,132.57 89.00,133.21 89.30,132.48 89.60,132.47 89.90,132.47 90.20,131.57 90.50,133.31 90.80,132.62 91.10,132.70 91.40,132.57 91.70,132.40 92.00,131.36 92.30,132.95 92.60,134.30 92.90,133.54 93.20,132.71 93.50,132.31 93.80,132.95 94.10,133.20 94.40,132.88 94.70,133.54 95.00,132.35 95.30,133.73 95.60,133.12 95.90,132.65 96.20,132.84 96.50,133.29 96.80,133.58 97.10,133.12 97.40,133.48 97.70,134.75 98.00,131.95 98.30,131.70 98.60,133.17 98.90,132.44 99.20,133.20 99.50,132.00 99.80,133.23 100.10,134.06 100.40,133.93 100.70,132.38 101.00,132.94 101.30,133.79 101.60,134.46 101.90,132.50 102.20,132.57 102.50,133.98 102.80,132.93 103.10,132.46 103.40,133.95 103.70,132.00 104.00,132.72 104.30,133.90 104.60,132.76 104.90,133.76 105.20,132.34 105.50,133.77 105.80,133.55 106.10,134.36 106.40,132.99 106.70,132.84 107.00,132.86 107.30,133.30 107.60,131.81 107.90,131.58 108.20,131.77 108.50,130.55 108.80,129.93 109.10,129.25 109.24,129.59 109.40,129.09 109.70,129.30 110.00,130.01 110.30,131.63 110.60,131.80 110.90,131.76 111.20,132.47 111.50,133.27 111.80,133.95 112.10,132.04 112.40,134.22 112.70,133.95 113.00,132.77 113.30,132.99 113.60,133.64 113.90,133.08 114.20,133.39 114.50,132.51 114.80,131.96 115.10,135.04 115.40,133.32 115.70,133.08 116.00,132.45 116.30,131.04 116.60,128.26 116.90,125.47 117.20,124.39 117.22,124.40 117.50,125.40 117.80,127.62 118.10,130.40 118.40,132.14 118.70,133.79 119.00,131.34 119.30,133.34 119.60,133.55 119.90,133.80 120.20,133.30 120.50,132.70 120.80,133.80 121.10,133.58 121.40,132.69 121.70,132.31 122.00,133.72 122.30,132.68 122.60,133.79 122.90,134.43 123.20,133.47 123.50,133.48 123.80,133.41 124.10,134.34 124.40,134.35 124.70,133.38 125.00,133.86 125.30,133.35 125.60,132.95 125.90,133.88 126.20,133.26 126.50,132.70 126.80,132.22 127.10,134.05 127.40,132.61 127.70,132.51 128.00,133.13 128.30,133.87 128.60,132.05 128.90,133.79 129.20,133.61 129.50,132.43 129.80,132.49 130.10,133.20 130.40,134.75 130.70,133.14 131.00,134.12 131.30,134.02 131.60,132.16 131.90,133.32 132.20,134.05 132.50,132.96 132.80,134.23 133.10,132.53 133.40,132.24 133.70,133.00 134.00,133.81 134.30,133.04 134.60,134.01 134.90,132.19 135.20,132.90 135.50,134.34 135.80,131.52 136.10,133.56 136.40,132.67 136.70,132.78 137.00,133.09 137.30,132.25 137.60,134.01 137.90,133.76 138.20,134.23 138.50,133.45 138.80,132.63 139.10,133.80 139.40,132.34 139.70,132.65 140.00,134.87 140.30,134.12 140.60,133.65 140.90,134.42 141.20,133.11 141.50,133.76 141.80,132.73 142.10,133.08 142.40,133.39 142.70,134.42 143.00,132.81 143.30,134.10 143.60,133.32 143.90,132.03 144.20,131.90 144.50,132.81 144.80,134.11 145.10,133.51 145.40,134.66 145.70,133.45 146.00,134.36 146.30,133.50 146.60,132.64 146.90,133.84 147.20,132.77 147.50,132.27 147.80,132.76 148.10,133.02 148.40,133.49 148.70,133.93 149.00,133.75 149.30,134.84 149.60,131.87 149.90,133.17 150.20,135.19 150.50,133.07 150.80,132.37 151.10,132.74 151.40,132.57 151.70,132.90 152.00,134.48 152.30,132.18 152.60,132.60 152.90,133.88 153.20,132.90 153.50,132.61 153.80,131.85 154.10,132.09 154.40,130.77 154.70,131.22 155.00,130.61 155.30,130.38 155.35,130.25 155.60,130.84 155.90,130.83 156.20,130.87 156.50,131.46 156.80,131.24 157.10,132.72 157.40,132.93 157.70,132.73 158.00,132.05 158.30,131.78 158.60,130.55 158.90,130.63 159.20,130.48 159.34,130.49 159.50,130.81 159.80,130.62 160.10,130.86 160.40,132.21 160.70,131.90 161.00,132.06 161.30,131.43 161.60,131.96 161.90,132.79 162.20,133.16 162.50,131.78 162.80,132.95 163.10,133.16 163.40,132.58 163.70,132.92 164.00,133.77 164.30,132.33 164.60,131.68 164.90,132.48 165.20,132.12 165.50,132.58 165.80,132.97 166.10,133.00 166.40,132.58 166.70,133.10 167.00,132.40 167.30,132.64 167.60,132.13 167.90,131.91 168.20,131.31 168.50,131.27 168.80,130.68 169.10,130.33 169.40,129.88 169.70,129.46 170.00,128.34 170.30,127.74 170.60,126.76 170.90,126.39 171.20,126.32 171.31,126.18 171.50,125.97 171.80,126.52 172.10,127.05 172.40,127.58 172.70,128.18 173.00,129.06 173.30,129.65 173.60,130.80 173.90,131.22 174.20,131.61 174.50,132.10 174.80,130.70 175.10,131.81 175.40,132.27 175.70,131.82 176.00,131.93 176.30,131.91 176.60,132.55 176.90,132.48 177.20,133.33 177.50,132.87 177.80,132.81 178.10,132.70 178.40,132.26 178.70,132.87 179.00,133.35 179.30,133.16 179.60,132.17 179.90,131.90 180.20,133.38 180.50,133.06 180.80,133.14 181.10,132.39 181.40,133.48 181.70,133.47 182.00,132.82 182.30,133.39 182.60,132.39 182.90,132.96 183.20,131.66 183.50,132.83 183.80,134.70 184.10,133.51 184.40,134.20 184.70,133.42 185.00,133.19 185.30,133.17 185.60,132.75 185.90,133.51 186.20,132.51 186.50,133.03 186.80,135.18 187.10,133.31 187.40,132.64 187.70,133.65 188.00,133.21 188.30,132.72 188.60,132.14 188.90,132.73 189.20,132.52 189.50,132.80 189.80,132.96 190.10,132.85 190.40,132.04 190.70,132.86 191.00,132.72 191.30,131.54 191.60,132.48 191.90,132.14 192.20,132.26 192.50,131.35 192.80,131.58 193.10,131.43 193.40,130.76 193.70,131.24 194.00,130.53 194.30,130.20 194.60,128.95 194.90,127.72 195.20,126.27 195.50,124.56 195.80,123.33 196.10,122.77 196.14,122.81 196.40,123.16 196.70,124.39 197.00,126.08 197.30,127.94 197.60,128.96 197.90,130.17 198.20,130.76 198.50,129.90 198.80,131.34 199.10,131.55 199.40,131.91 199.70,131.63 200.00,131.66 200.30,131.90 200.60,132.73 200.90,132.68 201.20,133.39 201.50,131.80 201.80,133.35 202.10,133.92 202.40,132.17 202.70,132.86 203.00,131.80 203.30,131.02 203.60,131.99 203.90,132.97 204.20,133.11 204.50,132.72 204.80,133.46 205.10,133.28 205.40,134.39 205.70,132.06 206.00,132.46 206.30,132.67 206.60,132.65 206.90,132.78 207.20,134.86 207.50,132.89 207.80,133.64 208.10,132.13 208.40,132.66 208.70,133.82 209.00,133.93 209.30,132.01 209.60,134.77 209.90,133.54 210.20,132.65 210.50,133.58 210.80,132.76 211.10,132.15 211.40,133.39 211.70,133.88 212.00,134.07 212.30,132.00 212.60,132.55 212.90,133.12 213.20,134.08 213.50,134.27 213.80,132.98 214.10,132.36 214.40,133.72 214.70,132.92 215.00,133.62 215.30,134.10 215.60,133.77 215.90,132.53 216.20,132.36 216.50,132.15 216.80,133.88 217.10,134.18 217.40,132.51 217.70,132.90 218.00,132.58 218.30,133.20 218.60,132.65 218.90,132.64 219.20,134.27 219.50,134.01 219.80,133.33 220.10,134.18 220.40,132.84 220.70,133.66 221.00,132.57 221.30,132.72 221.60,134.05 221.90,132.36 222.20,132.97 222.50,132.39 222.80,132.32 223.10,133.29 223.40,133.33 223.70,132.11 224.00,134.95 224.30,134.46 224.60,132.57 224.90,133.59 225.20,133.39 225.50,132.78 225.80,132.26 226.10,133.28 226.40,133.13 226.70,134.20 227.00,133.39 227.30,132.48 227.60,132.74 227.90,133.25 228.20,134.02" fill="none" stroke="#000" stroke-width="1.3" stroke-linejoin="round"/><polyline points="8.60,164.36 8.90,162.01 9.20,164.89 9.50,163.83 9.80,164.08 10.10,159.88 10.40,164.44 10.70,162.05 11.00,162.57 11.30,163.07 11.60,165.06 11.90,166.03 12.20,165.97 12.50,164.51 12.80,163.66 13.10,164.33 13.40,162.86 13.70,163.41 14.00,163.23 14.30,163.26 14.60,163.80 14.90,165.71 15.20,157.81 15.50,162.66 15.80,164.60 16.10,164.26 16.40,165.90 16.70,163.05 17.00,162.01 17.30,164.29 17.60,163.15 17.90,164.02 18.20,158.75 18.50,166.09 18.80,166.08 19.10,168.03 19.40,166.14 19.70,164.86 20.00,166.14 20.30,163.72 20.60,163.29 20.90,163.67 21.20,170.46 21.50,164.44 21.80,163.22 22.10,164.68 22.40,163.83 22.70,166.48 23.00,164.43 23.30,163.73 23.60,164.16 23.90,162.96 24.20,163.19 24.50,159.48 24.80,167.04 25.10,162.23 25.40,163.28 25.70,164.75 26.00,164.47 26.30,163.90 26.60,164.72 26.90,162.37 27.20,163.37 27.50,165.81 27.80,164.96 28.10,162.97 28.40,163.06 28.70,163.84 29.00,161.22 29.30,163.54 29.60,163.75 29.90,162.68 30.20,164.56 30.50,162.77 30.80,169.15 31.10,163.38 31.40,162.80 31.70,162.59 32.00,167.29 32.30,165.84 32.60,162.14 32.90,160.14 33.20,164.96 33.50,160.25 33.80,160.16 33.86,161.60 34.10,160.84 34.40,162.88 34.70,161.43 35.00,162.92 35.30,164.47 35.60,164.01 35.90,164.37 36.20,161.82 36.50,160.23 36.80,166.08 37.10,162.17 37.40,163.05 37.70,164.29 38.00,162.29 38.30,163.81 38.60,165.13 38.90,164.21 39.20,163.14 39.50,164.20 39.80,164.61 40.10,162.04 40.40,161.33 40.70,168.10 41.00,164.42 41.30,163.24 41.60,169.51 41.90,163.04 42.20,160.20 42.50,163.76 42.80,165.82 43.10,163.13 43.40,162.74 43.70,162.36 44.00,162.57 44.30,167.45 44.60,163.67 44.90,166.95 45.20,165.13 45.50,164.32 45.80,163.54 46.10,163.52 46.40,162.25 46.70,163.25 47.00,159.97 47.30,161.91 47.60,161.61 47.90,162.11 48.20,164.92 48.50,162.98 48.80,165.66 49.10,162.12 49.40,160.20 49.70,163.56 50.00,160.86 50.30,163.98 50.60,161.28 50.90,159.01 51.20,160.11 51.50,158.30 51.80,157.73 52.10,155.29 52.40,154.08 52.48,154.01 52.70,154.19 53.00,155.68 53.30,157.71 53.60,159.65 53.90,161.79 54.20,161.44 54.50,162.58 54.80,162.22 55.10,162.24 55.40,161.77 55.70,163.40 56.00,162.56 56.30,163.27 56.60,162.91 56.90,163.08 57.20,161.44 57.50,166.73 57.80,163.77 58.10,161.28 58.40,165.67 58.70,163.28 59.00,166.27 59.30,163.68 59.60,164.57 59.90,162.72 60.20,164.50 60.50,164.04 60.80,165.40 61.10,161.91 61.40,165.11 61.70,162.53 62.00,162.70 62.30,163.79 62.60,163.53 62.90,161.71 63.20,161.83 63.50,162.50 63.80,163.64 64.10,161.81 64.40,163.14 64.70,166.23 65.00,164.77 65.30,162.43 65.60,163.86 65.90,162.68 66.20,163.16 66.50,163.74 66.80,162.51 67.10,167.10 67.40,157.69 67.70,162.49 68.00,160.60 68.30,162.78 68.60,163.12 68.90,163.20 69.20,160.59 69.50,163.20 69.80,161.86 70.10,160.95 70.40,159.67 70.70,160.76 71.00,160.71 71.30,162.03 71.60,159.61 71.90,160.39 72.20,159.48 72.50,158.25 72.80,155.27 73.10,159.97 73.40,156.74 73.70,155.13 74.00,157.00 74.30,153.72 74.60,152.67 74.90,150.65 75.20,148.59 75.50,142.91 75.80,139.02 76.10,133.94 76.40,131.02 76.43,130.43 76.70,131.70 77.00,137.19 77.30,142.43 77.60,146.31 77.90,150.32 78.20,153.00 78.50,153.19 78.80,153.77 79.10,155.77 79.40,153.81 79.70,157.90 80.00,158.14 80.30,158.98 80.60,160.41 80.90,157.98 81.20,158.42 81.50,160.43 81.80,161.01 82.10,162.00 82.40,158.03 82.70,162.35 83.00,161.95 83.30,161.05 83.60,161.19 83.90,165.92 84.20,163.56 84.50,161.44 84.80,163.90 85.10,163.79 85.40,162.63 85.70,163.85 86.00,162.13 86.30,164.55 86.60,162.65 86.90,162.21 87.20,162.23 87.50,159.24 87.80,162.12 88.10,166.15 88.40,163.17 88.70,161.81 89.00,160.20 89.30,162.20 89.60,164.32 89.90,168.05 90.20,166.34 90.50,163.44 90.80,163.71 91.10,161.93 91.40,162.11 91.70,163.08 92.00,164.10 92.30,163.86 92.60,162.51 92.90,163.58 93.20,163.61 93.50,163.55 93.80,164.66 94.10,164.20 94.40,162.57 94.70,169.02 95.00,165.97 95.30,165.13 95.60,164.76 95.90,166.81 96.20,161.70 96.50,160.22 96.80,165.00 97.10,157.82 97.40,162.14 97.70,164.75 98.00,163.69 98.30,162.67 98.60,162.74 98.90,164.93 99.20,162.54 99.50,162.13 99.80,165.58 100.10,161.92 100.40,165.24 100.70,162.48 101.00,163.20 101.30,163.13 101.60,169.36 101.90,168.55 102.20,163.62 102.50,165.13 102.80,161.98 103.10,164.47 103.40,163.96 103.70,163.90 104.00,165.04 104.30,162.62 104.60,166.47 104.90,164.51 105.20,165.42 105.50,161.97 105.80,163.04 106.10,168.56 106.40,164.97 106.70,163.61 107.00,164.71 107.30,165.48 107.60,163.23 107.90,162.60 108.20,165.40 108.50,162.09 108.80,160.00 109.10,157.81 109.24,157.25 109.40,157.53 109.70,156.02 110.00,159.84 110.30,161.37 110.60,164.64 110.90,162.31 111.20,164.40 111.50,162.50 111.80,163.60 112.10,163.61 112.40,165.61 112.70,166.86 113.00,167.98 113.30,162.96 113.60,170.36 113.90,164.42 114.20,164.11 114.50,166.48 114.80,163.78 115.10,163.17 115.40,163.49 115.70,164.07 116.00,162.55 116.30,163.17 116.60,162.50 116.90,165.59 117.20,163.26 117.50,168.32 117.80,167.26 118.10,164.58 118.40,157.81 118.70,160.87 119.00,162.20 119.30,164.79 119.60,163.11 119.90,163.18 120.20,164.57 120.50,160.96 120.80,159.62 121.10,163.86 121.40,161.21 121.70,167.11 122.00,164.12 122.30,161.44 122.60,163.95 122.90,170.40 123.20,167.14 123.50,170.43 123.80,163.86 124.10,165.04 124.40,164.74 124.70,163.03 125.00,169.46 125.30,163.46 125.60,170.44 125.90,163.97 126.20,164.31 126.50,163.88 126.80,163.28 127.10,165.20 127.40,162.42 127.70,165.59 128.00,166.02 128.30,157.81 128.60,163.32 128.90,166.38 129.20,168.27 129.50,158.66 129.80,162.37 130.10,163.25 130.40,161.59 130.70,166.24 131.00,165.15 131.30,164.84 131.60,164.66 131.90,162.86 132.20,162.02 132.50,164.85 132.80,165.55 133.10,163.32 133.40,163.92 133.70,163.15 134.00,166.02 134.30,164.39 134.60,162.83 134.90,166.70 135.20,166.21 135.50,163.60 135.80,165.88 136.10,165.01 136.40,164.37 136.70,164.98 137.00,167.02 137.30,165.02 137.60,167.25 137.90,167.32 138.20,165.49 138.50,164.14 138.80,165.07 139.10,165.70 139.40,163.47 139.70,165.47 140.00,164.41 140.30,166.72 140.60,163.83 140.90,164.81 141.20,163.96 141.50,162.60 141.80,163.29 142.10,166.43 142.40,164.36 142.70,164.78 143.00,164.97 143.30,164.49 143.60,163.73 143.90,167.44 144.20,164.80 144.50,162.97 144.80,164.86 145.10,159.86 145.40,165.58 145.70,157.81 146.00,165.10 146.30,164.82 146.60,164.67 146.90,164.42 147.20,162.15 147.50,165.55 147.80,163.47 148.10,167.17 148.40,160.96 148.70,164.66 149.00,164.42 149.30,163.18 149.60,162.75 149.90,164.18 150.20,165.97 150.50,165.25 150.80,166.70 151.10,163.86 151.40,162.15 151.70,164.24 152.00,162.56 152.30,169.07 152.60,161.81 152.90,166.25 153.20,162.57 153.50,163.45 153.80,162.71 154.10,162.97 154.40,162.81 154.70,162.83 155.00,162.22 155.30,164.33 155.60,160.35 155.80,160.26 155.90,161.67 156.20,160.21 156.50,162.06 156.80,162.36 157.10,159.33 157.40,163.16 157.70,159.00 158.00,162.91 158.30,163.81 158.60,166.27 158.90,164.47 159.20,163.23 159.50,163.41 159.80,160.18 160.10,166.74 160.40,170.09 160.70,163.57 161.00,161.86 161.30,164.31 161.60,164.33 161.90,162.28 162.20,168.15 162.50,160.46 162.80,162.60 163.10,161.93 163.40,163.99 163.70,161.86 164.00,164.04 164.30,164.71 164.60,165.34 164.90,161.95 165.20,165.88 165.50,163.02 165.80,162.96 166.10,163.92 166.40,164.19 166.70,165.39 167.00,160.45 167.30,165.11 167.60,162.93 167.90,159.84 168.20,164.47 168.50,162.28 168.80,164.98 169.10,167.11 169.40,162.63 169.70,159.08 170.00,165.42 170.30,160.72 170.60,159.30 170.90,156.27 171.20,156.70 171.50,154.79 171.76,153.24 171.80,153.76 172.10,153.77 172.40,156.29 172.70,157.71 173.00,159.36 173.30,161.69 173.60,160.56 173.90,161.41 174.20,161.54 174.50,161.05 174.80,165.52 175.10,161.05 175.40,157.74 175.70,163.21 176.00,165.84 176.30,163.77 176.60,165.26 176.90,162.82 177.20,163.92 177.50,161.30 177.80,164.17 178.10,157.82 178.40,159.11 178.70,163.70 179.00,162.07 179.30,162.12 179.60,163.04 179.90,163.27 180.20,162.97 180.50,162.86 180.80,163.70 181.10,164.74 181.40,166.21 181.70,164.68 182.00,162.63 182.30,164.00 182.60,164.84 182.90,164.31 183.20,166.71 183.50,166.65 183.80,166.59 184.10,161.65 184.40,164.87 184.70,164.95 185.00,162.93 185.30,157.83 185.60,165.95 185.90,164.21 186.20,162.90 186.50,161.18 186.80,166.68 187.10,164.18 187.40,164.95 187.70,162.33 188.00,164.40 188.30,161.23 188.60,162.21 188.90,168.08 189.20,163.10 189.50,164.51 189.80,164.74 190.10,163.90 190.40,164.15 190.70,163.04 191.00,161.67 191.30,162.94 191.60,158.04 191.90,162.73 192.20,162.82 192.50,160.71 192.80,163.50 193.10,161.71 193.40,160.99 193.70,160.07 194.00,160.39 194.30,160.04 194.60,158.46 194.90,158.44 195.20,155.37 195.50,153.87 195.80,151.58 196.10,150.43 196.14,150.85 196.40,151.65 196.70,152.31 197.00,154.29 197.30,154.97 197.60,157.77 197.90,159.26 198.20,162.12 198.50,160.20 198.80,161.26 199.10,165.79 199.40,159.31 199.70,163.97 200.00,162.87 200.30,161.51 200.60,161.96 200.90,161.30 201.20,163.30 201.50,160.91 201.80,164.71 202.10,163.51 202.40,163.19 202.70,161.29 203.00,160.74 203.30,163.17 203.60,164.71 203.90,165.90 204.20,165.91 204.50,165.56 204.80,164.77 205.10,165.50 205.40,167.34 205.70,167.10 206.00,165.12 206.30,163.05 206.60,165.05 206.90,162.26 207.20,162.71 207.50,160.89 207.80,163.36 208.10,162.33 208.40,162.15 208.70,161.31 209.00,167.93 209.30,157.82 209.60,166.57 209.90,162.25 210.20,163.21 210.50,162.35 210.80,165.08 211.10,166.19 211.40,162.61 211.70,165.88 212.00,162.70 212.30,164.37 212.60,160.66 212.90,163.11 213.20,164.04 213.50,166.20 213.80,161.98 214.10,163.68 214.40,164.69 214.70,163.45 215.00,164.36 215.30,161.22 215.60,163.62 215.90,164.74 216.20,160.45 216.50,162.82 216.80,164.86 217.10,164.86 217.40,163.97 217.70,164.89 218.00,164.75 218.30,163.46 218.60,162.57 218.90,163.22 219.20,164.70 219.50,162.89 219.80,163.51 220.10,164.07 220.40,163.31 220.70,162.80 221.00,164.69 221.30,161.45 221.60,165.79 221.90,160.40 222.20,165.56 222.50,162.37 222.80,164.56 223.10,163.61 223.40,164.20 223.70,164.00 224.00,157.81 224.30,163.25 224.60,161.95 224.90,164.68 225.20,163.43 225.50,159.33 225.80,163.81 226.10,163.49 226.40,164.45 226.70,164.30 227.00,160.23 227.30,162.27 227.60,168.93 227.90,160.16 228.20,161.27" fill="none" stroke="#444" stroke-width="0.5"/><polyline points="8.60,164.62 8.90,165.76 9.20,164.87 9.50,163.36 9.80,163.72 10.10,164.79 10.40,164.12 10.70,165.04 11.00,162.71 11.30,165.72 11.60,165.55 11.90,163.08 12.20,163.93 12.50,163.70 12.80,163.88 13.10,164.89 13.40,163.79 13.70,163.49 14.00,164.71 14.30,165.19 14.60,163.86 14.90,164.41 15.20,163.12 15.50,164.94 15.80,165.91 16.10,164.65 16.40,164.16 16.70,162.66 17.00,163.96 17.30,162.65 17.60,164.79 17.90,165.55 18.20,165.26 18.50,164.32 18.80,164.57 19.10,163.68 19.40,164.37 19.70,164.37 20.00,164.18 20.30,162.16 20.60,164.38 20.90,164.52 21.20,163.59 21.50,164.49 21.80,164.77 22.10,162.52 22.40,164.83 22.70,163.74 23.00,163.24 23.30,164.22 23.60,163.49 23.90,163.73 24.20,163.31 24.50,163.56 24.80,163.15 25.10,163.62 25.40,163.24 25.70,163.04 26.00,164.88 26.30,164.10 26.60,164.40 26.90,165.39 27.20,164.59 27.50,164.09 27.80,163.25 28.10,164.68 28.40,164.44 28.70,164.86 29.00,163.98 29.30,163.80 29.60,162.50 29.90,164.49 30.20,162.90 30.50,163.69 30.80,164.42 31.10,164.10 31.40,163.96 31.70,164.34 32.00,162.63 32.30,163.76 32.60,164.09 32.90,163.20 33.20,161.05 33.50,161.12 33.80,160.49 33.86,160.05 34.10,160.12 34.40,161.23 34.70,162.88 35.00,163.31 35.30,162.92 35.60,163.90 35.90,164.71 36.20,163.91 36.50,163.64 36.80,164.32 37.10,162.42 37.40,164.29 37.70,162.95 38.00,163.89 38.30,164.22 38.60,163.84 38.90,163.39 39.20,163.65 39.50,164.52 39.80,162.93 40.10,163.25 40.40,164.13 40.70,164.47 41.00,163.87 41.30,163.49 41.60,164.37 41.90,163.57 42.20,165.31 42.50,164.78 42.80,165.16 43.10,163.12 43.40,163.44 43.70,163.57 44.00,162.87 44.30,163.36 44.60,164.36 44.90,162.98 45.20,163.45 45.50,164.63 45.80,163.79 46.10,163.88 46.40,163.51 46.70,163.04 47.00,163.16 47.30,163.49 47.60,162.90 47.90,163.20 48.20,162.82 48.50,162.93 48.80,163.73 49.10,163.05 49.40,161.88 49.70,162.27 50.00,163.01 50.30,162.67 50.60,161.02 50.90,161.01 51.20,159.85 51.50,157.86 51.80,156.43 52.10,154.74 52.40,153.58 52.48,153.55 52.70,153.97 53.00,155.28 53.30,157.18 53.60,159.07 53.90,159.88 54.20,161.29 54.50,161.07 54.80,161.94 55.10,162.54 55.40,163.16 55.70,162.11 56.00,162.77 56.30,162.90 56.60,161.86 56.90,162.90 57.20,163.17 57.50,163.42 57.80,164.34 58.10,163.27 58.40,163.20 58.70,163.22 59.00,163.29 59.30,163.62 59.60,164.32 59.90,162.69 60.20,163.37 60.50,161.85 60.80,162.31 61.10,163.45 61.40,162.02 61.70,163.55 62.00,164.14 62.30,162.78 62.60,162.86 62.90,163.29 63.20,162.95 63.50,163.21 63.80,162.79 64.10,163.71 64.40,163.34 64.70,163.08 65.00,161.76 65.30,162.63 65.60,163.02 65.90,163.34 66.20,162.52 66.50,163.16 66.80,163.22 67.10,162.37 67.40,162.99 67.70,162.43 68.00,161.88 68.30,162.30 68.60,162.82 68.90,162.25 69.20,161.94 69.50,162.12 69.80,161.87 70.10,161.46 70.40,160.50 70.70,160.05 71.00,160.11 71.30,160.78 71.60,160.12 71.90,159.15 72.20,159.22 72.50,158.27 72.80,157.96 73.10,157.37 73.40,156.46 73.70,155.69 74.00,154.72 74.30,153.49 74.60,152.34 74.90,150.71 75.20,148.16 75.50,144.15 75.80,138.73 76.10,133.47 76.40,130.97 76.43,130.95 76.70,132.74 77.00,137.70 77.30,143.27 77.60,147.59 77.90,150.35 78.20,152.09 78.50,153.39 78.80,154.49 79.10,155.38 79.40,156.19 79.70,157.22 80.00,158.05 80.30,158.55 80.60,158.81 80.90,159.47 81.20,159.75 81.50,159.86 81.80,160.27 82.10,160.69 82.40,161.33 82.70,160.94 83.00,162.02 83.30,161.77 83.60,162.44 83.90,162.52 84.20,162.31 84.50,162.40 84.80,162.61 85.10,162.71 85.40,163.03 85.70,163.71 86.00,163.17 86.30,163.77 86.60,163.50 86.90,162.83 87.20,163.38 87.50,163.52 87.80,163.71 88.10,163.01 88.40,163.93 88.70,162.96 89.00,163.25 89.30,163.79 89.60,163.52 89.90,162.91 90.20,162.67 90.50,163.17 90.80,163.08 91.10,164.92 91.40,162.90 91.70,162.67 92.00,165.05 92.30,162.53 92.60,163.26 92.90,163.99 93.20,163.69 93.50,163.90 93.80,164.75 94.10,165.30 94.40,163.89 94.70,164.00 95.00,163.55 95.30,163.40 95.60,163.47 95.90,163.93 96.20,163.45 96.50,163.99 96.80,163.47 97.10,163.05 97.40,163.56 97.70,163.62 98.00,163.45 98.30,163.51 98.60,164.18 98.90,162.90 99.20,164.46 99.50,163.40 99.80,163.74 100.10,164.72 100.40,164.50 100.70,162.56 101.00,164.10 101.30,164.81 101.60,163.19 101.90,163.54 102.20,164.83 102.50,162.97 102.80,165.14 103.10,162.94 103.40,163.38 103.70,163.50 104.00,163.59 104.30,164.45 104.60,164.21 104.90,164.04 105.20,164.07 105.50,162.75 105.80,163.46 106.10,164.70 106.40,163.05 106.70,164.89 107.00,163.69 107.30,162.95 107.60,163.73 107.90,162.95 108.20,161.28 108.50,160.12 108.80,158.94 109.10,158.31 109.24,157.93 109.40,158.33 109.70,159.48 110.00,160.25 110.30,161.80 110.60,163.08 110.90,163.42 111.20,163.36 111.50,163.48 111.80,163.54 112.10,164.20 112.40,163.70 112.70,164.53 113.00,165.28 113.30,164.36 113.60,162.95 113.90,164.25 114.20,163.86 114.50,163.71 114.80,163.46 115.10,163.81 115.40,166.36 115.70,166.30 116.00,165.30 116.30,163.35 116.60,164.14 116.90,164.82 117.20,163.78 117.50,164.48 117.80,164.85 118.10,165.18 118.40,164.36 118.70,164.28 119.00,163.86 119.30,163.79 119.60,164.13 119.90,163.94 120.20,164.61 120.50,164.27 120.80,163.87 121.10,165.12 121.40,163.79 121.70,164.48 122.00,164.40 122.30,163.60 122.60,164.02 122.90,164.21 123.20,163.62 123.50,163.06 123.80,165.97 124.10,163.56 124.40,163.79 124.70,163.84 125.00,164.02 125.30,164.66 125.60,164.62 125.90,163.60 126.20,164.29 126.50,164.52 126.80,163.89 127.10,164.86 127.40,164.23 127.70,164.72 128.00,163.29 128.30,165.36 128.60,163.94 128.90,163.34 129.20,163.43 129.50,163.52 129.80,164.33 130.10,162.44 130.40,163.39 130.70,164.91 131.00,165.03 131.30,163.34 131.60,164.24 131.90,164.31 132.20,163.98 132.50,163.74 132.80,164.76 133.10,163.97 133.40,164.32 133.70,164.76 134.00,163.49 134.30,163.51 134.60,165.83 134.90,163.45 135.20,165.02 135.50,165.06 135.80,164.27 136.10,163.96 136.40,164.13 136.70,163.65 137.00,164.21 137.30,164.03 137.60,163.80 137.90,163.93 138.20,164.80 138.50,164.20 138.80,164.03 139.10,165.59 139.40,164.17 139.70,164.64 140.00,163.55 140.30,163.42 140.60,164.54 140.90,164.89 141.20,162.00 141.50,164.68 141.80,164.75 142.10,164.20 142.40,164.64 142.70,163.40 143.00,164.45 143.30,163.35 143.60,163.98 143.90,163.87 144.20,164.26 144.50,163.16 144.80,164.33 145.10,164.40 145.40,164.97 145.70,163.70 146.00,164.48 146.30,163.64 146.60,164.49 146.90,163.64 147.20,163.33 147.50,163.68 147.80,165.24 148.10,165.17 148.40,164.17 148.70,164.20 149.00,164.39 149.30,163.03 149.60,165.55 149.90,163.43 150.20,163.23 150.50,163.98 150.80,163.40 151.10,164.32 151.40,164.54 151.70,163.81 152.00,164.12 152.30,163.51 152.60,162.68 152.90,162.84 153.20,164.64 153.50,163.06 153.80,161.80 154.10,161.78 154.40,161.47 154.70,161.62 155.00,160.96 155.30,161.03 155.60,160.95 155.80,160.54 155.90,160.53 156.20,160.87 156.50,160.67 156.80,161.10 157.10,161.00 157.40,162.47 157.70,162.14 158.00,163.12 158.30,164.70 158.60,162.68 158.90,163.37 159.20,163.12 159.50,163.10 159.80,164.42 160.10,162.81 160.40,164.15 160.70,164.00 161.00,164.68 161.30,162.68 161.60,163.04 161.90,164.58 162.20,162.61 162.50,163.98 162.80,164.62 163.10,162.78 163.40,163.07 163.70,164.37 164.00,162.89 164.30,164.28 164.60,164.47 164.90,163.68 165.20,163.57 165.50,163.55 165.80,163.10 166.10,163.98 166.40,163.87 166.70,163.35 167.00,163.46 167.30,162.38 167.60,162.54 167.90,161.78 168.20,162.53 168.50,163.14 168.80,162.66 169.10,162.08 169.40,161.90 169.70,161.59 170.00,161.67 170.30,160.16 170.60,159.51 170.90,157.55 171.20,155.35 171.50,153.94 171.76,153.45 171.80,153.40 172.10,154.37 172.40,155.95 172.70,157.94 173.00,159.70 173.30,160.92 173.60,161.37 173.90,162.23 174.20,161.87 174.50,162.61 174.80,162.48 175.10,162.73 175.40,162.33 175.70,162.91 176.00,162.21 176.30,162.32 176.60,163.15 176.90,163.81 177.20,162.74 177.50,163.71 177.80,164.87 178.10,163.85 178.40,163.93 178.70,163.47 179.00,162.34 179.30,163.34 179.60,163.68 179.90,162.92 180.20,163.79 180.50,163.19 180.80,164.26 181.10,163.78 181.40,163.88 181.70,163.99 182.00,163.62 182.30,164.79 182.60,162.98 182.90,163.18 183.20,163.69 183.50,163.82 183.80,162.83 184.10,164.38 184.40,163.58 184.70,164.14 185.00,163.32 185.30,163.35 185.60,163.86 185.90,163.37 186.20,163.21 186.50,163.82 186.80,164.11 187.10,163.43 187.40,163.83 187.70,163.02 188.00,163.75 188.30,162.92 188.60,163.61 188.90,162.74 189.20,163.46 189.50,163.83 189.80,163.25 190.10,162.18 190.40,163.85 190.70,162.59 191.00,161.66 191.30,163.67 191.60,162.27 191.90,162.76 192.20,162.37 192.50,162.90 192.80,162.51 193.10,160.91 193.40,161.45 193.70,160.57 194.00,160.41 194.30,159.68 194.60,158.62 194.90,156.95 195.20,155.18 195.50,153.04 195.80,151.28 196.10,150.51 196.14,150.44 196.40,150.88 196.70,152.42 197.00,154.32 197.30,156.53 197.60,158.04 197.90,159.19 198.20,159.89 198.50,160.40 198.80,161.28 199.10,160.84 199.40,161.35 199.70,162.01 200.00,162.06 200.30,162.99 200.60,162.55 200.90,163.69 201.20,163.23 201.50,162.30 201.80,162.89 202.10,163.96 202.40,162.36 202.70,162.63 203.00,162.15 203.30,163.26 203.60,163.97 203.90,164.13 204.20,163.35 204.50,162.64 204.80,163.69 205.10,163.46 205.40,164.12 205.70,163.78 206.00,164.45 206.30,163.29 206.60,163.73 206.90,163.65 207.20,163.44 207.50,164.07 207.80,162.61 208.10,162.75 208.40,162.09 208.70,163.85 209.00,164.39 209.30,164.14 209.60,164.98 209.90,163.96 210.20,163.25 210.50,164.14 210.80,164.05 211.10,164.06 211.40,164.71 211.70,163.34 212.00,163.39 212.30,163.93 212.60,164.83 212.90,163.44 213.20,164.94 213.50,164.98 213.80,163.74 214.10,163.57 214.40,163.96 214.70,162.91 215.00,165.14 215.30,164.17 215.60,164.84 215.90,163.59 216.20,164.19 216.50,163.94 216.80,165.23 217.10,163.29 217.40,164.94 217.70,164.10 218.00,164.04 218.30,162.81 218.60,163.97 218.90,163.77 219.20,164.49 219.50,163.72 219.80,163.62 220.10,164.74 220.40,164.25 220.70,163.76 221.00,164.23 221.30,164.47 221.60,163.96 221.90,164.02 222.20,165.20 222.50,164.06 222.80,162.51 223.10,164.70 223.40,165.05 223.70,164.85 224.00,164.79 224.30,162.61 224.60,163.44 224.90,164.15 225.20,164.20 225.50,164.06 225.80,163.14 226.10,163.57 226.40,163.80 226.70,164.75 227.00,165.62 227.30,162.91 227.60,164.12 227.90,163.38 228.20,164.76" fill="none" stroke="#000" stroke-width="1.3" stroke-linejoin="round"/><polyline points="8.60,204.30 8.90,205.06 9.20,204.09 9.50,205.62 9.80,202.76 10.10,204.02 10.40,203.24 10.70,204.29 11.00,202.67 11.30,203.66 11.60,203.75 11.90,209.31 12.20,203.61 12.50,204.84 12.80,200.02 13.10,205.68 13.40,202.93 13.70,205.75 14.00,200.31 14.30,203.59 14.60,205.68 14.90,205.48 15.20,207.24 15.50,201.96 15.80,203.40 16.10,206.16 16.40,204.43 16.70,200.99 17.00,207.25 17.30,205.89 17.60,202.33 17.90,205.66 18.20,203.78 18.50,204.80 18.80,211.07 19.10,205.08 19.40,205.89 19.70,209.78 20.00,204.11 20.30,203.56 20.60,199.93 20.90,206.59 21.20,206.32 21.50,205.69 21.80,204.33 22.10,202.46 22.40,203.96 22.70,207.45 23.00,199.75 23.30,205.50 23.60,204.88 23.90,205.83 24.20,205.04 24.50,203.85 24.80,205.06 25.10,203.67 25.40,210.99 25.70,205.41 26.00,204.00 26.30,204.78 26.60,203.68 26.90,206.21 27.20,204.93 27.50,205.77 27.80,202.55 28.10,203.96 28.40,203.93 28.70,201.20 29.00,204.23 29.30,206.57 29.60,205.68 29.90,205.66 30.20,205.85 30.50,202.87 30.80,204.35 31.10,202.47 31.40,207.56 31.70,207.20 32.00,205.98 32.30,205.38 32.60,201.86 32.90,204.60 33.20,203.37 33.50,206.18 33.80,206.03 34.10,202.99 34.40,204.52 34.70,204.48 35.00,201.95 35.30,202.82 35.60,203.42 35.90,200.95 36.20,203.15 36.50,203.37 36.80,204.60 37.10,204.98 37.40,205.42 37.70,204.07 38.00,206.82 38.30,197.75 38.60,210.54 38.90,203.75 39.20,204.77 39.50,206.16 39.80,205.21 40.10,198.96 40.40,203.36 40.70,203.07 41.00,203.36 41.30,205.41 41.60,204.79 41.90,203.50 42.20,203.11 42.50,206.37 42.80,202.93 43.10,207.27 43.40,204.27 43.70,205.29 44.00,200.80 44.30,205.47 44.60,204.31 44.90,204.11 45.20,204.67 45.50,205.43 45.80,203.16 46.10,203.57 46.40,202.52 46.70,202.50 47.00,207.71 47.30,203.55 47.60,201.98 47.90,203.01 48.20,201.77 48.50,202.39 48.80,203.48 49.10,202.04 49.40,200.70 49.70,200.28 50.00,201.51 50.30,200.47 50.60,199.56 50.90,199.77 51.20,197.66 51.50,197.30 51.80,193.78 52.10,190.24 52.40,190.47 52.48,190.07 52.70,191.57 53.00,192.07 53.30,194.26 53.60,195.96 53.90,199.26 54.20,199.45 54.50,200.73 54.80,202.12 55.10,200.57 55.40,201.74 55.70,203.71 56.00,203.41 56.30,201.26 56.60,201.98 56.90,201.11 57.20,203.81 57.50,202.89 57.80,201.40 58.10,202.05 58.40,200.81 58.70,202.80 59.00,200.99 59.30,207.82 59.60,200.93 59.90,203.09 60.20,206.26 60.50,204.37 60.80,203.43 61.10,205.16 61.40,203.69 61.70,203.02 62.00,202.29 62.30,205.30 62.60,205.34 62.90,203.83 63.20,204.00 63.50,203.77 63.80,204.05 64.10,201.53 64.40,202.26 64.70,200.15 65.00,203.73 65.30,203.02 65.60,203.50 65.90,202.77 66.20,202.84 66.50,201.81 66.80,200.75 67.10,202.81 67.40,201.41 67.70,201.76 68.00,201.37 68.30,202.24 68.60,200.84 68.90,201.07 69.20,202.61 69.50,201.52 69.80,201.15 70.10,200.06 70.40,201.81 70.70,199.68 71.00,198.27 71.30,197.49 71.60,198.82 71.90,197.13 72.20,196.19 72.50,195.93 72.80,194.30 73.10,194.36 73.40,190.79 73.70,191.84 74.00,189.75 74.30,188.46 74.60,186.15 74.90,185.97 75.20,182.11 75.50,176.98 75.80,170.95 76.10,164.11 76.40,161.47 76.43,162.18 76.70,162.57 77.00,169.36 77.30,176.29 77.60,179.15 77.90,183.54 78.20,186.45 78.50,188.39 78.80,190.37 79.10,191.59 79.40,190.20 79.70,192.73 80.00,194.43 80.30,194.76 80.60,195.73 80.90,196.76 81.20,196.43 81.50,197.49 81.80,196.07 82.10,198.15 82.40,194.54 82.70,199.10 83.00,196.86 83.08,197.15 83.30,196.80 83.60,198.59 83.90,199.49 84.20,201.45 84.50,200.43 84.80,200.10 85.10,201.27 85.40,202.81 85.70,198.66 86.00,203.94 86.30,202.83 86.60,203.78 86.90,203.08 87.20,201.16 87.50,203.02 87.80,203.14 88.10,206.60 88.40,203.77 88.70,204.38 89.00,204.92 89.30,202.59 89.60,202.76 89.90,202.73 90.20,199.12 90.50,202.33 90.80,202.38 91.10,202.39 91.40,206.20 91.70,202.48 92.00,202.74 92.30,202.73 92.60,203.52 92.90,205.15 93.20,204.55 93.50,203.80 93.80,204.84 94.10,206.87 94.40,202.83 94.70,204.67 95.00,202.42 95.30,204.77 95.60,205.81 95.90,209.79 96.20,202.45 96.50,202.78 96.80,202.87 97.10,203.81 97.40,204.72 97.70,203.02 98.00,203.37 98.30,204.43 98.60,204.27 98.90,204.33 99.20,203.17 99.50,204.47 99.80,205.37 100.10,202.34 100.40,203.30 100.70,204.60 101.00,204.43 101.30,205.21 101.60,202.19 101.90,205.22 102.20,202.21 102.50,204.18 102.80,203.09 103.10,202.92 103.40,198.87 103.70,201.97 104.00,202.37 104.30,204.12 104.60,202.46 104.90,204.94 105.20,199.34 105.50,203.32 105.80,202.90 106.10,201.44 106.40,202.94 106.70,201.84 107.00,200.29 107.30,200.92 107.60,200.92 107.90,200.34 108.20,198.53 108.50,198.35 108.80,197.08 109.10,195.21 109.40,193.77 109.68,192.68 109.70,192.25 110.00,193.44 110.30,194.75 110.60,196.96 110.90,199.55 111.20,200.17 111.50,200.55 111.80,201.29 112.10,201.53 112.40,202.82 112.70,202.82 113.00,201.96 113.30,202.80 113.60,201.59 113.90,204.98 114.20,201.55 114.50,205.13 114.80,209.19 115.10,204.19 115.40,204.72 115.70,203.22 116.00,203.71 116.30,203.10 116.60,204.29 116.90,204.12 117.20,203.36 117.50,202.81 117.80,204.72 118.10,202.71 118.40,202.72 118.70,204.54 119.00,206.72 119.30,209.79 119.60,202.91 119.90,205.25 120.20,201.51 120.50,205.15 120.80,205.30 121.10,204.39 121.40,204.37 121.70,204.43 122.00,203.21 122.30,202.42 122.60,204.48 122.90,203.74 123.20,203.36 123.50,206.03 123.80,202.67 124.10,202.31 124.40,203.39 124.70,205.65 125.00,205.97 125.30,200.10 125.60,207.19 125.90,208.77 126.20,205.27 126.50,208.16 126.80,205.71 127.10,204.15 127.40,202.39 127.70,203.68 128.00,203.44 128.30,202.97 128.60,206.58 128.90,203.54 129.20,204.96 129.50,204.31 129.80,202.53 130.10,200.85 130.40,206.62 130.70,202.86 131.00,204.54 131.30,204.96 131.60,202.90 131.90,204.40 132.20,200.21 132.50,205.86 132.80,203.45 133.10,204.07 133.40,202.49 133.70,205.68 134.00,205.68 134.30,200.49 134.60,203.46 134.90,205.76 135.20,201.24 135.50,205.88 135.80,202.82 136.10,201.35 136.40,204.55 136.70,203.67 137.00,203.94 137.30,205.85 137.60,205.18 137.90,207.68 138.20,202.73 138.50,208.11 138.80,202.98 139.10,207.72 139.40,200.85 139.70,204.90 140.00,198.31 140.30,204.12 140.60,203.54 140.90,206.47 141.20,203.03 141.50,203.87 141.80,200.59 142.10,201.40 142.40,202.86 142.70,205.53 143.00,204.69 143.30,204.60 143.60,203.28 143.90,203.24 144.20,203.38 144.50,200.75 144.80,202.80 145.10,199.67 145.40,204.58 145.70,209.66 146.00,205.72 146.30,204.97 146.60,207.22 146.90,202.18 147.20,205.88 147.50,203.06 147.80,210.98 148.10,205.71 148.40,201.50 148.70,203.73 149.00,205.25 149.30,204.06 149.60,204.20 149.90,205.71 150.20,204.85 150.50,203.94 150.80,202.15 151.10,202.40 151.40,204.19 151.70,200.97 152.00,204.58 152.30,205.02 152.60,203.72 152.90,203.05 153.20,204.59 153.50,203.44 153.80,203.87 154.10,201.23 154.40,204.39 154.70,202.11 155.00,203.80 155.30,200.02 155.60,199.33 155.80,199.15 155.90,200.30 156.20,199.87 156.50,198.77 156.80,201.32 157.10,201.27 157.40,205.23 157.70,202.95 158.00,201.59 158.30,203.68 158.60,203.51 158.90,204.05 159.20,203.62 159.50,201.27 159.80,204.42 160.10,201.83 160.40,210.57 160.70,202.58 161.00,202.24 161.30,206.78 161.60,204.61 161.90,204.53 162.20,207.17 162.50,204.33 162.80,204.92 163.10,199.62 163.40,203.49 163.70,205.78 164.00,205.01 164.30,200.80 164.60,204.58 164.90,205.04 165.20,204.81 165.50,204.64 165.80,204.62 166.10,203.03 166.40,202.57 166.70,203.01 167.00,202.19 167.30,202.77 167.60,203.18 167.90,202.13 168.20,202.67 168.50,204.83 168.80,203.17 169.10,203.50 169.40,202.00 169.70,202.33 170.00,200.54 170.30,199.99 170.60,199.84 170.90,196.08 171.20,194.45 171.50,192.71 171.76,191.44 171.80,192.06 172.10,193.27 172.40,194.29 172.70,197.58 173.00,198.96 173.30,200.05 173.60,201.26 173.90,201.72 174.20,199.29 174.50,201.62 174.80,204.11 175.10,201.02 175.40,203.85 175.70,202.06 176.00,203.39 176.30,202.79 176.60,204.18 176.90,203.07 177.20,204.49 177.50,203.49 177.80,203.52 178.10,204.85 178.40,202.62 178.70,204.26 179.00,202.62 179.30,202.55 179.60,201.58 179.90,203.81 180.20,204.45 180.50,203.52 180.80,200.93 181.10,205.84 181.40,200.67 181.70,203.92 182.00,209.21 182.30,205.86 182.60,203.45 182.90,210.04 183.20,203.26 183.50,201.46 183.80,205.56 184.10,210.01 184.40,203.24 184.70,205.02 185.00,202.47 185.30,197.76 185.60,204.41 185.90,203.73 186.20,203.09 186.50,202.59 186.80,203.60 187.10,201.56 187.40,202.02 187.70,204.43 188.00,207.29 188.30,205.02 188.60,206.45 188.90,201.92 189.20,203.79 189.50,202.35 189.80,203.13 190.10,203.90 190.40,203.47 190.70,202.10 191.00,200.82 191.30,202.05 191.60,202.31 191.90,203.48 192.20,202.31 192.50,202.22 192.80,201.54 193.10,201.03 193.40,201.35 193.70,200.52 194.00,199.77 194.30,202.40 194.60,197.99 194.90,198.49 195.20,195.30 195.50,192.81 195.80,191.18 196.10,189.55 196.14,191.07 196.40,190.90 196.70,190.76 197.00,194.28 197.30,195.75 197.60,197.22 197.90,198.16 198.20,199.66 198.50,199.68 198.80,200.80 199.10,203.55 199.40,201.98 199.70,200.97 200.00,201.52 200.30,203.54 200.60,203.98 200.90,203.47 201.20,203.83 201.50,203.85 201.80,200.35 202.10,203.79 202.40,204.36 202.70,204.62 203.00,201.68 203.30,204.98 203.60,202.18 203.90,204.54 204.20,200.81 204.50,205.18 204.80,204.04 205.10,201.43 205.40,201.01 205.70,205.34 206.00,203.37 206.30,204.03 206.60,204.92 206.90,203.10 207.20,205.40 207.50,202.05 207.80,206.22 208.10,203.41 208.40,208.58 208.70,202.57 209.00,204.63 209.30,204.52 209.60,203.69 209.90,204.91 210.20,207.92 210.50,203.01 210.80,201.59 211.10,204.62 211.40,202.66 211.70,200.97 212.00,204.15 212.30,204.15 212.60,203.43 212.90,204.32 213.20,203.44 213.50,200.07 213.80,204.81 214.10,203.87 214.40,205.28 214.70,204.84 215.00,204.07 215.30,202.71 215.60,204.54 215.90,204.21 216.20,206.70 216.50,205.28 216.80,204.04 217.10,204.95 217.40,204.40 217.70,205.29 218.00,205.51 218.30,204.07 218.60,204.93 218.90,203.80 219.20,205.84 219.50,204.41 219.80,204.58 220.10,204.53 220.40,204.96 220.70,204.73 221.00,204.85 221.30,201.32 221.60,203.77 221.90,205.52 222.20,204.15 222.50,204.30 222.80,204.71 223.10,200.83 223.40,197.72 223.70,204.13 224.00,205.43 224.30,205.31 224.60,203.86 224.90,204.69 225.20,202.27 225.50,202.51 225.80,207.15 226.10,204.18 226.40,203.44 226.70,205.38 227.00,203.19 227.30,198.91 227.60,205.75 227.90,205.70 228.20,211.13" fill="none" stroke="#444" stroke-width="0.5"/><polyline points="8.60,205.24 8.90,203.48 9.20,204.90 9.50,203.54 9.80,205.21 10.10,203.28 10.40,203.90 10.70,203.98 11.00,202.87 11.30,205.05 11.60,203.28 11.90,203.46 12.20,204.00 12.50,204.96 12.80,203.82 13.10,205.88 13.40,204.40 13.70,204.20 14.00,204.74 14.30,204.32 14.60,203.63 14.90,204.01 15.20,204.53 15.50,205.56 15.80,204.60 16.10,204.75 16.40,202.77 16.70,204.21 17.00,204.38 17.30,205.69 17.60,205.57 17.90,204.49 18.20,204.78 18.50,204.35 18.80,203.86 19.10,204.40 19.40,204.12 19.70,204.63 20.00,204.89 20.30,204.24 20.60,205.20 20.90,203.56 21.20,204.39 21.50,204.53 21.80,203.04 22.10,204.83 22.40,204.90 22.70,205.63 23.00,204.34 23.30,204.81 23.60,204.84 23.90,203.18 24.20,204.58 24.50,203.32 24.80,204.57 25.10,204.89 25.40,204.56 25.70,202.87 26.00,205.41 26.30,204.57 26.60,205.07 26.90,203.85 27.20,204.06 27.50,205.85 27.80,204.20 28.10,204.03 28.40,204.07 28.70,205.05 29.00,203.20 29.30,204.09 29.60,203.68 29.90,206.11 30.20,205.09 30.50,204.38 30.80,204.47 31.10,204.14 31.40,203.99 31.70,204.18 32.00,205.56 32.30,204.08 32.60,204.09 32.90,204.50 33.20,205.33 33.50,204.61 33.80,203.51 34.10,204.30 34.40,204.27 34.70,203.31 35.00,203.72 35.30,204.48 35.60,203.93 35.90,205.40 36.20,204.46 36.50,203.89 36.80,204.15 37.10,203.56 37.40,203.73 37.70,204.71 38.00,204.12 38.30,202.84 38.60,203.23 38.90,204.54 39.20,203.35 39.50,203.91 39.80,204.85 40.10,203.94 40.40,203.89 40.70,203.80 41.00,204.76 41.30,203.57 41.60,203.20 41.90,204.05 42.20,205.05 42.50,204.19 42.80,204.93 43.10,204.69 43.40,203.16 43.70,203.89 44.00,203.75 44.30,203.78 44.60,204.49 44.90,204.55 45.20,204.09 45.50,204.31 45.80,203.18 46.10,203.93 46.40,202.79 46.70,203.11 47.00,202.53 47.30,203.74 47.60,202.75 47.90,203.21 48.20,202.06 48.50,202.60 48.80,202.64 49.10,202.10 49.40,201.86 49.70,201.54 50.00,201.11 50.30,200.59 50.60,199.89 50.90,199.42 51.20,197.80 51.50,195.73 51.80,193.18 52.10,190.76 52.40,189.47 52.48,189.40 52.70,189.90 53.00,191.73 53.30,194.32 53.60,196.47 53.90,198.35 54.20,199.58 54.50,200.12 54.80,201.08 55.10,201.02 55.40,201.42 55.70,202.13 56.00,202.58 56.30,202.29 56.60,202.13 56.90,202.35 57.20,203.16 57.50,202.20 57.80,202.31 58.10,202.40 58.40,203.46 58.70,203.21 59.00,202.57 59.30,202.68 59.60,203.09 59.90,202.84 60.20,202.57 60.50,202.69 60.80,203.04 61.10,202.81 61.40,203.12 61.70,202.93 62.00,202.73 62.30,203.32 62.60,203.32 62.90,202.01 63.20,203.15 63.50,202.73 63.80,202.41 64.10,203.26 64.40,202.96 64.70,203.06 65.00,202.46 65.30,203.50 65.60,202.81 65.90,202.22 66.20,203.26 66.50,201.94 66.80,202.84 67.10,201.96 67.40,201.71 67.70,201.53 68.00,201.28 68.30,201.16 68.60,201.42 68.90,201.06 69.20,200.36 69.50,200.66 69.80,199.92 70.10,200.13 70.40,199.55 70.70,199.22 71.00,199.04 71.30,198.00 71.60,198.09 71.90,197.52 72.20,196.56 72.50,195.71 72.80,194.72 73.10,193.83 73.40,192.66 73.70,191.43 74.00,190.07 74.30,188.63 74.60,186.96 74.90,184.84 75.20,181.74 75.50,176.94 75.80,170.53 76.10,164.35 76.40,161.42 76.43,161.40 76.70,163.50 77.00,169.32 77.30,175.88 77.60,181.02 77.90,184.40 78.20,186.64 78.50,188.32 78.80,189.83 79.10,191.28 79.40,192.50 79.70,193.59 80.00,194.68 80.30,195.54 80.60,196.36 80.90,196.87 81.20,197.58 81.50,197.67 81.80,197.53 82.10,197.57 82.40,197.35 82.70,197.31 83.00,197.38 83.08,197.43 83.30,197.60 83.60,198.39 83.90,199.03 84.20,200.36 84.50,200.34 84.80,201.14 85.10,201.45 85.40,201.52 85.70,202.29 86.00,202.41 86.30,202.49 86.60,203.21 86.90,202.34 87.20,202.92 87.50,202.83 87.80,203.00 88.10,202.28 88.40,202.37 88.70,203.51 89.00,202.48 89.30,203.78 89.60,204.07 89.90,202.96 90.20,203.51 90.50,203.47 90.80,204.28 91.10,204.68 91.40,203.95 91.70,204.02 92.00,204.28 92.30,202.99 92.60,203.55 92.90,204.15 93.20,203.34 93.50,204.69 93.80,203.10 94.10,203.58 94.40,203.78 94.70,204.15 95.00,203.16 95.30,203.51 95.60,203.99 95.90,203.83 96.20,204.14 96.50,203.26 96.80,203.07 97.10,201.96 97.40,202.93 97.70,203.44 98.00,202.80 98.30,203.49 98.60,204.28 98.90,203.43 99.20,204.32 99.50,204.21 99.80,203.75 100.10,204.19 100.40,204.29 100.70,202.84 101.00,204.72 101.30,202.57 101.60,203.84 101.90,203.28 102.20,203.30 102.50,203.74 102.80,203.35 103.10,203.44 103.40,203.49 103.70,202.95 104.00,203.56 104.30,202.75 104.60,203.63 104.90,202.58 105.20,203.29 105.50,202.79 105.80,203.70 106.10,202.33 106.40,203.22 106.70,202.29 107.00,201.56 107.30,202.55 107.60,202.02 107.90,201.70 108.20,200.21 108.50,199.15 108.80,197.23 109.10,194.86 109.40,193.16 109.68,192.38 109.70,192.43 110.00,193.18 110.30,195.07 110.60,197.30 110.90,199.22 111.20,200.60 111.50,201.51 111.80,201.03 112.10,202.22 112.40,202.20 112.70,201.84 113.00,202.50 113.30,203.36 113.60,203.43 113.90,202.47 114.20,203.06 114.50,203.19 114.80,204.32 115.10,203.45 115.40,203.21 115.70,203.70 116.00,202.22 116.30,203.86 116.60,204.45 116.90,204.13 117.20,202.72 117.50,205.51 117.80,204.35 118.10,203.89 118.40,203.93 118.70,204.58 119.00,203.95 119.30,203.97 119.60,204.50 119.90,203.36 120.20,204.63 120.50,203.47 120.80,204.44 121.10,204.87 121.40,204.52 121.70,204.74 122.00,203.92 122.30,203.65 122.60,204.93 122.90,204.11 123.20,203.63 123.50,203.85 123.80,203.73 124.10,204.75 124.40,204.65 124.70,205.28 125.00,203.47 125.30,204.30 125.60,204.20 125.90,202.80 126.20,204.22 126.50,204.71 126.80,203.69 127.10,203.39 127.40,205.95 127.70,203.33 128.00,205.37 128.30,204.53 128.60,204.61 128.90,203.93 129.20,203.60 129.50,205.35 129.80,205.66 130.10,203.72 130.40,205.19 130.70,204.33 131.00,204.89 131.30,204.18 131.60,203.83 131.90,203.22 132.20,203.09 132.50,204.24 132.80,204.16 133.10,203.47 133.40,203.15 133.70,203.74 134.00,204.61 134.30,204.95 134.60,205.04 134.90,204.36 135.20,204.84 135.50,203.43 135.80,205.45 136.10,204.38 136.40,203.73 136.70,203.62 137.00,203.51 137.30,204.06 137.60,204.90 137.90,203.76 138.20,204.95 138.50,204.40 138.80,203.07 139.10,203.48 139.40,203.62 139.70,203.96 140.00,205.60 140.30,206.00 140.60,204.48 140.90,204.50 141.20,203.73 141.50,205.09 141.80,203.68 142.10,203.94 142.40,204.35 142.70,204.92 143.00,204.49 143.30,202.63 143.60,204.56 143.90,204.02 144.20,204.54 144.50,205.28 144.80,203.16 145.10,204.45 145.40,204.98 145.70,203.21 146.00,205.27 146.30,204.77 146.60,204.52 146.90,203.75 147.20,204.62 147.50,204.83 147.80,203.74 148.10,203.86 148.40,203.68 148.70,204.48 149.00,204.53 149.30,204.94 149.60,204.54 149.90,204.01 150.20,204.32 150.50,203.68 150.80,205.00 151.10,203.61 151.40,203.68 151.70,204.31 152.00,202.92 152.30,204.48 152.60,204.95 152.90,204.29 153.20,204.05 153.50,203.53 153.80,202.79 154.10,202.15 154.40,201.10 154.70,200.90 155.00,200.37 155.30,200.07 155.60,199.27 155.80,199.36 155.90,199.40 156.20,199.44 156.50,199.85 156.80,200.45 157.10,201.16 157.40,202.55 157.70,201.79 158.00,202.46 158.30,202.66 158.60,203.94 158.90,204.30 159.20,203.41 159.50,204.73 159.80,203.45 160.10,205.20 160.40,204.22 160.70,204.80 161.00,203.21 161.30,204.74 161.60,204.21 161.90,203.72 162.20,203.03 162.50,204.59 162.80,204.50 163.10,203.79 163.40,204.60 163.70,204.59 164.00,204.64 164.30,203.26 164.60,204.30 164.90,203.93 165.20,203.35 165.50,203.81 165.80,203.34 166.10,204.24 166.40,203.42 166.70,203.63 167.00,203.79 167.30,204.19 167.60,203.41 167.90,202.30 168.20,203.43 168.50,202.63 168.80,202.78 169.10,202.09 169.40,201.58 169.70,200.85 170.00,200.79 170.30,200.03 170.60,198.36 170.90,196.47 171.20,194.34 171.50,192.70 171.76,192.17 171.80,192.21 172.10,193.06 172.40,194.97 172.70,196.97 173.00,199.05 173.30,200.11 173.60,200.47 173.90,201.07 174.20,201.69 174.50,202.51 174.80,202.32 175.10,203.25 175.40,202.93 175.70,202.45 176.00,202.63 176.30,204.05 176.60,202.85 176.90,202.90 177.20,202.92 177.50,202.74 177.80,204.01 178.10,204.16 178.40,203.03 178.70,204.75 179.00,204.35 179.30,203.58 179.60,202.91 179.90,203.57 180.20,203.59 180.50,204.32 180.80,203.62 181.10,204.49 181.40,205.48 181.70,203.43 182.00,203.53 182.30,204.73 182.60,205.10 182.90,202.70 183.20,203.55 183.50,202.86 183.80,204.15 184.10,203.98 184.40,203.39 184.70,204.05 185.00,204.64 185.30,201.84 185.60,202.80 185.90,203.30 186.20,203.75 186.50,204.02 186.80,203.86 187.10,204.82 187.40,203.72 187.70,203.18 188.00,203.10 188.30,202.31 188.60,203.38 188.90,203.74 189.20,202.71 189.50,203.76 189.80,202.48 190.10,203.46 190.40,202.90 190.70,203.75 191.00,202.90 191.30,202.71 191.60,202.26 191.90,201.76 192.20,201.77 192.50,201.40 192.80,200.96 193.10,201.61 193.40,201.16 193.70,200.57 194.00,200.02 194.30,198.86 194.60,197.62 194.90,196.54 195.20,194.55 195.50,192.45 195.80,190.74 196.10,189.95 196.14,189.91 196.40,190.38 196.70,191.87 197.00,193.98 197.30,196.00 197.60,197.67 197.90,198.91 198.20,199.53 198.50,200.22 198.80,201.03 199.10,200.52 199.40,201.14 199.70,202.04 200.00,201.73 200.30,201.53 200.60,202.64 200.90,202.91 201.20,202.97 201.50,203.06 201.80,202.31 202.10,204.59 202.40,202.84 202.70,202.97 203.00,203.84 203.30,203.90 203.60,203.65 203.90,203.82 204.20,204.15 204.50,204.04 204.80,203.33 205.10,203.98 205.40,204.17 205.70,204.20 206.00,203.98 206.30,203.37 206.60,204.38 206.90,204.56 207.20,204.37 207.50,203.03 207.80,204.40 208.10,205.23 208.40,204.53 208.70,203.89 209.00,204.43 209.30,204.17 209.60,204.02 209.90,204.64 210.20,204.48 210.50,203.78 210.80,205.57 211.10,205.01 211.40,203.13 211.70,204.23 212.00,204.30 212.30,202.51 212.60,203.47 212.90,205.13 213.20,204.34 213.50,204.69 213.80,204.53 214.10,204.42 214.40,204.04 214.70,203.47 215.00,203.14 215.30,203.82 215.60,205.02 215.90,205.12 216.20,205.38 216.50,204.32 216.80,203.82 217.10,205.50 217.40,205.19 217.70,204.82 218.00,204.78 218.30,204.12 218.60,205.35 218.90,203.15 219.20,204.18 219.50,204.91 219.80,204.49 220.10,205.64 220.40,204.79 220.70,203.97 221.00,203.89 221.30,202.89 221.60,205.40 221.90,204.60 222.20,204.99 222.50,203.63 222.80,203.75 223.10,204.92 223.40,204.13 223.70,204.47 224.00,205.65 224.30,204.84 224.60,204.83 224.90,204.73 225.20,204.20 225.50,205.11 225.80,204.72 226.10,206.35 226.40,205.09 226.70,203.38 227.00,204.36 227.30,203.95 227.60,205.69 227.90,204.52 228.20,203.68" fill="none" stroke="#000" stroke-width="1.4" stroke-linejoin="round"/>
<line x1="11.40" y1="83.40" x2="11.40" y2="87.00" stroke="#555" stroke-width="0.85"/><line x1="9.84" y1="84.30" x2="12.96" y2="86.10" stroke="#555" stroke-width="0.85"/><line x1="9.84" y1="86.10" x2="12.96" y2="84.30" stroke="#555" stroke-width="0.85"/><circle cx="26.6" cy="87.3" r="2.2" fill="#000"/><line x1="34.50" y1="6.00" x2="34.50" y2="10.60" stroke="#555" stroke-width="0.85"/><line x1="32.51" y1="7.15" x2="36.49" y2="9.45" stroke="#555" stroke-width="0.85"/><line x1="32.51" y1="9.45" x2="36.49" y2="7.15" stroke="#555" stroke-width="0.85"/><circle cx="66.7" cy="43.2" r="2.5" fill="#000"/><circle cx="77.5" cy="56.3" r="2.5" fill="#000"/><line x1="80.60" y1="85.50" x2="80.60" y2="90.10" stroke="#555" stroke-width="0.85"/><line x1="78.61" y1="86.65" x2="82.59" y2="88.95" stroke="#555" stroke-width="0.85"/><line x1="78.61" y1="88.95" x2="82.59" y2="86.65" stroke="#555" stroke-width="0.85"/><line x1="88.00" y1="71.70" x2="88.00" y2="76.30" stroke="#555" stroke-width="0.85"/><line x1="86.01" y1="72.85" x2="89.99" y2="75.15" stroke="#555" stroke-width="0.85"/><line x1="86.01" y1="75.15" x2="89.99" y2="72.85" stroke="#555" stroke-width="0.85"/><line x1="94.40" y1="81.30" x2="94.40" y2="85.90" stroke="#555" stroke-width="0.85"/><line x1="92.41" y1="82.45" x2="96.39" y2="84.75" stroke="#555" stroke-width="0.85"/><line x1="92.41" y1="84.75" x2="96.39" y2="82.45" stroke="#555" stroke-width="0.85"/><circle cx="100.4" cy="85.5" r="2.3" fill="#000"/><line x1="104.90" y1="76.50" x2="104.90" y2="81.10" stroke="#555" stroke-width="0.85"/><line x1="102.91" y1="77.65" x2="106.89" y2="79.95" stroke="#555" stroke-width="0.85"/><line x1="102.91" y1="79.95" x2="106.89" y2="77.65" stroke="#555" stroke-width="0.85"/><circle cx="117" cy="67" r="2.1" fill="none" stroke="#111" stroke-width="0.8"/><line x1="134.60" y1="82.30" x2="134.60" y2="86.90" stroke="#555" stroke-width="0.85"/><line x1="132.61" y1="83.45" x2="136.59" y2="85.75" stroke="#555" stroke-width="0.85"/><line x1="132.61" y1="85.75" x2="136.59" y2="83.45" stroke="#555" stroke-width="0.85"/><line x1="133.60" y1="86.70" x2="133.60" y2="91.30" stroke="#555" stroke-width="0.85"/><line x1="131.61" y1="87.85" x2="135.59" y2="90.15" stroke="#555" stroke-width="0.85"/><line x1="131.61" y1="90.15" x2="135.59" y2="87.85" stroke="#555" stroke-width="0.85"/><circle cx="138.6" cy="75.8" r="2.5" fill="#000"/><line x1="155.30" y1="86.00" x2="155.30" y2="90.60" stroke="#555" stroke-width="0.85"/><line x1="153.31" y1="87.15" x2="157.29" y2="89.45" stroke="#555" stroke-width="0.85"/><line x1="153.31" y1="89.45" x2="157.29" y2="87.15" stroke="#555" stroke-width="0.85"/><line x1="154.20" y1="90.50" x2="154.20" y2="95.10" stroke="#555" stroke-width="0.85"/><line x1="152.21" y1="91.65" x2="156.19" y2="93.95" stroke="#555" stroke-width="0.85"/><line x1="152.21" y1="93.95" x2="156.19" y2="91.65" stroke="#555" stroke-width="0.85"/><circle cx="159.1" cy="70.7" r="2.5" fill="#000"/><line x1="169.00" y1="95.10" x2="169.00" y2="99.70" stroke="#555" stroke-width="0.85"/><line x1="167.01" y1="96.25" x2="170.99" y2="98.55" stroke="#555" stroke-width="0.85"/><line x1="167.01" y1="98.55" x2="170.99" y2="96.25" stroke="#555" stroke-width="0.85"/><circle cx="174.6" cy="90.5" r="2.3" fill="#000"/><line x1="179.80" y1="84.00" x2="179.80" y2="88.60" stroke="#555" stroke-width="0.85"/><line x1="177.81" y1="85.15" x2="181.79" y2="87.45" stroke="#555" stroke-width="0.85"/><line x1="177.81" y1="87.45" x2="181.79" y2="85.15" stroke="#555" stroke-width="0.85"/><line x1="192.00" y1="89.40" x2="192.00" y2="94.00" stroke="#555" stroke-width="0.85"/><line x1="190.01" y1="90.55" x2="193.99" y2="92.85" stroke="#555" stroke-width="0.85"/><line x1="190.01" y1="92.85" x2="193.99" y2="90.55" stroke="#555" stroke-width="0.85"/><circle cx="195.5" cy="79.5" r="2.3" fill="#000"/><circle cx="202.9" cy="83.3" r="2.3" fill="#000"/><circle cx="207" cy="91.7" r="1.7" fill="none" stroke="#111" stroke-width="0.8"/><line x1="212.70" y1="78.90" x2="212.70" y2="83.50" stroke="#555" stroke-width="0.85"/><line x1="210.71" y1="80.05" x2="214.69" y2="82.35" stroke="#555" stroke-width="0.85"/><line x1="210.71" y1="82.35" x2="214.69" y2="80.05" stroke="#555" stroke-width="0.85"/><line x1="210.60" y1="83.70" x2="210.60" y2="88.30" stroke="#555" stroke-width="0.85"/><line x1="208.61" y1="84.85" x2="212.59" y2="87.15" stroke="#555" stroke-width="0.85"/><line x1="208.61" y1="87.15" x2="212.59" y2="84.85" stroke="#555" stroke-width="0.85"/><line x1="217.20" y1="89.40" x2="217.20" y2="94.00" stroke="#555" stroke-width="0.85"/><line x1="215.21" y1="90.55" x2="219.19" y2="92.85" stroke="#555" stroke-width="0.85"/><line x1="215.21" y1="92.85" x2="219.19" y2="90.55" stroke="#555" stroke-width="0.85"/>
<circle cx="112.6" cy="26.8" r="2.5" fill="#000"/><circle cx="112.3" cy="36" r="1.8" fill="none" stroke="#111" stroke-width="0.8"/><line x1="112.60" y1="42.40" x2="112.60" y2="47.20" stroke="#555" stroke-width="0.85"/><line x1="110.52" y1="43.60" x2="114.68" y2="46.00" stroke="#555" stroke-width="0.85"/><line x1="110.52" y1="46.00" x2="114.68" y2="43.60" stroke="#555" stroke-width="0.85"/>
<text x="0" y="0" class="rl" style="font-size:5.0px" text-anchor="middle" transform="translate(53.20,179.60) rotate(-90) scale(1.36,1)">(220)</text><text x="0" y="0" class="rl" style="font-size:5.0px" text-anchor="middle" transform="translate(83.30,171.60) rotate(-90) scale(1.36,1)">(311)</text><text x="0" y="0" class="rl" style="font-size:5.0px" text-anchor="middle" transform="translate(86.20,187.60) rotate(-90) scale(1.36,1)">(222)</text><text x="0" y="0" class="rl" style="font-size:5.0px" text-anchor="middle" transform="translate(111.50,182.30) rotate(-90) scale(1.36,1)">(400)</text><text x="0" y="0" class="rl" style="font-size:5.0px" text-anchor="middle" transform="translate(157.80,187.00) rotate(-90) scale(1.36,1)">(422)</text><text x="0" y="0" class="rl" style="font-size:5.0px" text-anchor="middle" transform="translate(172.00,182.00) rotate(-90) scale(1.36,1)">(511)</text><text x="0" y="0" class="rl" style="font-size:5.0px" text-anchor="middle" transform="translate(198.00,176.40) rotate(-90) scale(1.36,1)">(440)</text>
<rect x="7.7" y="5.3" width="221.70" height="206.30" fill="none" stroke="#8c8c8c" stroke-width="1.5"/>
<line x1="7.70" y1="211.6" x2="7.70" y2="209.4" stroke="#333" stroke-width="0.8"/><line x1="7.70" y1="5.3" x2="7.70" y2="7.5" stroke="#555" stroke-width="0.7"/><line x1="29.87" y1="211.6" x2="29.87" y2="210.0" stroke="#333" stroke-width="0.8"/><line x1="29.87" y1="5.3" x2="29.87" y2="6.9" stroke="#555" stroke-width="0.7"/><line x1="52.04" y1="211.6" x2="52.04" y2="209.4" stroke="#333" stroke-width="0.8"/><line x1="52.04" y1="5.3" x2="52.04" y2="7.5" stroke="#555" stroke-width="0.7"/><line x1="74.21" y1="211.6" x2="74.21" y2="210.0" stroke="#333" stroke-width="0.8"/><line x1="74.21" y1="5.3" x2="74.21" y2="6.9" stroke="#555" stroke-width="0.7"/><line x1="96.38" y1="211.6" x2="96.38" y2="209.4" stroke="#333" stroke-width="0.8"/><line x1="96.38" y1="5.3" x2="96.38" y2="7.5" stroke="#555" stroke-width="0.7"/><line x1="118.55" y1="211.6" x2="118.55" y2="210.0" stroke="#333" stroke-width="0.8"/><line x1="118.55" y1="5.3" x2="118.55" y2="6.9" stroke="#555" stroke-width="0.7"/><line x1="140.72" y1="211.6" x2="140.72" y2="209.4" stroke="#333" stroke-width="0.8"/><line x1="140.72" y1="5.3" x2="140.72" y2="7.5" stroke="#555" stroke-width="0.7"/><line x1="162.89" y1="211.6" x2="162.89" y2="210.0" stroke="#333" stroke-width="0.8"/><line x1="162.89" y1="5.3" x2="162.89" y2="6.9" stroke="#555" stroke-width="0.7"/><line x1="185.06" y1="211.6" x2="185.06" y2="209.4" stroke="#333" stroke-width="0.8"/><line x1="185.06" y1="5.3" x2="185.06" y2="7.5" stroke="#555" stroke-width="0.7"/><line x1="207.23" y1="211.6" x2="207.23" y2="210.0" stroke="#333" stroke-width="0.8"/><line x1="207.23" y1="5.3" x2="207.23" y2="6.9" stroke="#555" stroke-width="0.7"/><line x1="229.40" y1="211.6" x2="229.40" y2="209.4" stroke="#333" stroke-width="0.8"/><line x1="229.40" y1="5.3" x2="229.40" y2="7.5" stroke="#555" stroke-width="0.7"/>
<text x="7.70" y="223" text-anchor="middle" class="at">20</text><text x="52.04" y="223" text-anchor="middle" class="at">30</text><text x="96.38" y="223" text-anchor="middle" class="at">40</text><text x="140.72" y="223" text-anchor="middle" class="at">50</text><text x="185.06" y="223" text-anchor="middle" class="at">60</text><text x="229.40" y="223" text-anchor="middle" class="at">70</text>
<text x="87.8" y="232.0" class="at" style="font-size:9.8px">2 theta (degree)</text>
<text x="206.5" y="29.2" style="font-size:14.5px;font-weight:bold" fill="#000">A</text>
<text x="120" y="30.2" class="lg">α-Fe<tspan font-size="6" dy="1.5">2</tspan><tspan dy="-1.5">O</tspan><tspan font-size="6" dy="1.5">3</tspan></text>
<text x="120" y="39.1" class="lg">Fe</text>
<text x="120" y="48.1" class="lg">GeO<tspan font-size="6" dy="1.5">2</tspan></text>
<text x="0" y="0" class="lg" transform="translate(189.6,55) scale(1,0.8)"><tspan font-style="italic">t</tspan><tspan font-size="5.5" dy="1.3">m</tspan><tspan dy="-1.3"> = 0 h</tspan></text>
<text x="200.4" y="121.2" class="lg">0.5 h</text>
<text x="208.3" y="153.7" class="lg">1 h</text>
<text x="208.3" y="191.7" class="lg">2 h</text>
<text x="116.5" y="177" class="lg" style="font-size:8.8px">Fe<tspan font-size="6" dy="1.5">2</tspan><tspan dy="-1.5">GeO</tspan><tspan font-size="6" dy="1.5">4</tspan></text>
</g>
<g>
<line x1="285.2" y1="209.9" x2="541.4" y2="209.9" stroke="#c2c2c2" stroke-width="1.3"/>
<polyline points="286.10,172.28 286.35,176.60 286.60,176.20 286.85,170.65 287.10,171.37 287.35,170.68 287.60,174.24 287.85,172.27 288.10,174.88 288.35,166.63 288.60,177.57 288.85,172.30 289.10,174.82 289.35,172.26 289.60,171.53 289.85,174.24 290.10,175.43 290.35,172.24 290.60,172.46 290.85,175.16 291.10,170.32 291.35,168.36 291.60,174.42 291.85,171.14 292.10,167.28 292.35,170.81 292.60,171.96 292.85,169.76 293.10,168.89 293.35,173.71 293.60,176.45 293.85,173.00 294.10,171.47 294.35,175.03 294.60,176.11 294.85,173.03 295.10,175.70 295.35,177.29 295.60,173.50 295.85,171.70 296.10,175.32 296.35,175.08 296.60,177.74 296.85,170.52 297.10,172.48 297.35,172.01 297.60,169.35 297.85,175.06 298.10,176.34 298.35,172.56 298.60,179.05 298.85,177.40 299.10,176.87 299.35,176.25 299.60,177.97 299.85,171.16 300.10,177.05 300.35,177.04 300.60,169.97 300.85,176.32 301.10,174.56 301.35,177.66 301.60,174.06 301.85,175.34 302.10,176.43 302.35,172.85 302.60,177.24 302.85,175.19 303.10,176.98 303.35,174.01 303.60,178.77 303.85,177.38 304.10,175.11 304.35,177.51 304.60,179.37 304.85,180.94 305.10,171.15 305.35,178.33 305.60,177.14 305.85,175.54 306.10,172.93 306.35,179.51 306.60,172.25 306.85,177.56 307.10,179.70 307.35,171.37 307.60,175.13 307.85,172.27 308.10,176.76 308.35,180.42 308.60,181.89 308.85,171.06 309.10,174.52 309.35,178.19 309.60,180.70 309.85,177.44 310.10,174.16 310.35,177.14 310.60,176.28 310.85,175.77 311.10,174.31 311.35,177.49 311.60,177.29 311.85,176.19 312.10,175.86 312.35,172.92 312.60,175.18 312.85,179.92 313.10,176.06 313.35,172.62 313.60,180.34 313.85,178.14 314.10,182.52 314.35,176.89 314.60,175.48 314.85,172.79 315.10,180.43 315.35,183.85 315.60,174.55 315.85,175.04 316.10,178.44 316.35,174.55 316.60,176.09 316.85,175.88 317.10,177.35 317.35,179.80 317.60,176.90 317.85,179.33 318.10,175.72 318.35,177.74 318.60,171.11 318.85,172.97 319.10,179.01 319.35,175.30 319.60,178.43 319.85,178.33 320.10,180.41 320.35,179.06 320.60,179.60 320.85,176.61 321.10,175.06 321.35,174.98 321.60,175.63 321.85,173.95 322.10,175.49 322.35,176.69 322.60,177.60 322.85,176.06 323.10,171.92 323.35,176.77 323.60,177.55 323.85,179.79 324.10,178.47 324.35,175.30 324.60,175.10 324.85,182.18 325.10,178.94 325.35,181.71 325.60,182.48 325.85,174.90 326.10,178.00 326.35,178.19 326.60,178.45 326.85,178.41 327.10,177.54 327.35,177.48 327.60,173.22 327.85,176.62 328.10,175.15 328.35,177.37 328.60,175.88 328.85,178.62 329.10,179.13 329.35,177.85 329.60,177.87 329.85,177.31 330.10,175.97 330.35,176.68 330.60,175.86 330.85,178.07 331.10,177.14 331.35,178.56 331.60,173.80 331.85,179.33 332.10,175.23 332.35,175.30 332.60,176.64 332.85,175.74 333.10,177.87 333.35,175.72 333.60,174.50 333.85,175.06 334.10,180.41 334.35,177.28 334.60,174.28 334.85,177.20 335.10,173.33 335.35,181.61 335.60,173.43 335.85,178.38 336.10,178.54 336.35,173.63 336.60,177.95 336.85,179.67 337.10,178.37 337.35,177.87 337.60,179.56 337.85,177.63 338.10,178.07 338.35,176.93 338.60,178.80 338.85,174.94 339.10,179.20 339.35,176.02 339.60,174.60 339.85,178.17 340.10,181.42 340.35,179.64 340.60,176.04 340.85,179.01 341.10,176.21 341.35,177.03 341.60,177.56 341.85,171.71 342.10,177.83 342.35,174.87 342.60,175.69 342.85,173.81 343.10,173.72 343.35,175.12 343.60,179.43 343.85,181.48 344.10,177.38 344.35,180.10 344.60,176.83 344.85,172.85 345.10,177.85 345.35,178.57 345.60,176.47 345.85,178.25 346.10,178.91 346.35,175.46 346.60,173.99 346.85,177.03 347.10,177.06 347.35,176.73 347.60,179.96 347.85,181.75 348.10,176.61 348.35,179.30 348.60,179.89 348.85,179.35 349.10,180.16 349.35,176.73 349.60,179.44 349.85,182.52 350.10,179.61 350.35,176.22 350.60,179.16 350.85,180.73 351.10,178.61 351.35,176.39 351.60,181.43 351.85,174.78 352.10,178.96 352.35,177.74 352.60,174.95 352.85,180.69 353.10,178.63 353.35,175.04 353.60,179.25 353.85,176.81 354.10,173.33 354.35,176.22 354.60,178.48 354.85,179.37 355.10,178.27 355.35,177.99 355.60,179.00 355.85,177.40 356.10,180.69 356.35,178.27 356.60,178.62 356.85,179.21 357.10,175.45 357.35,176.28 357.60,181.55 357.85,178.75 358.10,177.31 358.35,178.78 358.60,176.85 358.85,178.64 359.10,176.44 359.35,178.65 359.60,174.31 359.85,181.13 360.10,176.82 360.35,174.32 360.60,177.50 360.85,177.16 361.10,178.39 361.35,175.36 361.60,178.96 361.85,186.47 362.10,175.06 362.35,178.82 362.60,177.31 362.85,178.47 363.10,173.81 363.35,175.34 363.60,179.07 363.85,177.90 364.10,181.77 364.35,176.33 364.60,178.35 364.85,184.66 365.10,176.12 365.35,175.77 365.60,177.74 365.85,177.68 366.10,179.67 366.35,177.96 366.60,175.84 366.85,177.98 367.10,183.45 367.35,180.17 367.60,170.68 367.85,176.55 368.10,174.62 368.35,177.75 368.60,175.48 368.85,179.50 369.10,175.69 369.35,175.61 369.60,174.01 369.85,173.50 370.10,174.38 370.35,176.56 370.40,174.82 370.60,172.80 370.85,176.52 371.10,174.05 371.35,173.44 371.60,171.81 371.85,173.26 372.10,174.24 372.35,169.89 372.60,178.91 372.85,178.17 373.10,176.62 373.35,179.67 373.60,178.44 373.85,178.42 374.10,172.09 374.35,177.26 374.60,179.07 374.85,181.57 375.10,182.15 375.35,181.26 375.60,175.47 375.85,173.18 376.10,179.45 376.35,178.26 376.60,180.39 376.85,177.96 377.10,178.76 377.35,174.92 377.60,179.31 377.85,177.32 378.10,179.12 378.35,179.37 378.60,178.09 378.85,179.07 379.10,178.34 379.35,180.07 379.60,179.50 379.85,177.16 380.10,177.08 380.35,182.28 380.60,178.17 380.85,180.61 381.10,179.27 381.35,177.14 381.60,176.73 381.85,178.66 382.10,178.96 382.35,179.75 382.60,175.57 382.85,177.05 383.10,178.16 383.35,181.90 383.60,173.12 383.85,179.31 384.10,177.13 384.35,179.26 384.60,177.20 384.85,179.08 385.10,181.70 385.35,179.01 385.60,179.16 385.85,178.99 386.10,176.49 386.35,179.29 386.60,177.60 386.85,176.23 387.10,177.87 387.35,177.40 387.60,179.47 387.85,177.65 388.10,176.49 388.35,180.73 388.60,179.58 388.85,180.05 389.10,178.43 389.35,176.67 389.60,175.75 389.85,175.78 390.10,178.12 390.35,175.91 390.60,171.96 390.85,174.48 391.10,170.83 391.35,174.30 391.60,171.35 391.85,171.24 392.10,174.27 392.35,173.87 392.60,170.46 392.85,175.70 392.90,178.77 393.10,170.91 393.35,178.07 393.60,172.67 393.85,173.12 394.10,173.82 394.35,171.12 394.60,177.06 394.85,175.72 395.10,173.79 395.35,175.39 395.60,173.20 395.85,176.11 396.10,179.20 396.35,173.79 396.60,176.78 396.85,178.24 397.10,180.35 397.35,181.16 397.60,177.43 397.85,176.95 398.10,179.58 398.35,177.81 398.60,177.53 398.85,179.30 399.10,178.31 399.35,175.30 399.60,174.35 399.80,175.99 399.85,170.77 400.10,174.77 400.35,172.59 400.60,181.18 400.85,179.67 401.10,179.40 401.35,179.04 401.60,174.28 401.85,181.13 402.10,183.10 402.35,178.19 402.60,181.19 402.85,181.31 403.10,176.61 403.35,181.82 403.60,182.73 403.85,180.42 404.10,179.85 404.35,181.65 404.60,176.86 404.85,180.27 405.10,182.29 405.35,177.59 405.60,182.22 405.85,179.35 406.10,175.98 406.35,180.06 406.60,178.32 406.85,180.98 407.10,177.98 407.35,182.53 407.60,178.92 407.85,181.17 408.10,179.28 408.35,179.86 408.60,182.94 408.85,181.00 409.10,179.80 409.35,178.11 409.60,182.98 409.85,182.15 410.10,180.05 410.35,181.20 410.60,178.68 410.85,178.72 411.10,179.11 411.35,181.47 411.60,181.37 411.85,179.32 412.10,182.26 412.35,182.36 412.60,181.17 412.85,182.88 413.10,180.29 413.35,180.65 413.60,181.80 413.85,180.83 414.10,182.45 414.35,178.48 414.60,183.70 414.85,179.42 415.10,180.63 415.35,178.30 415.60,182.13 415.85,183.44 416.10,183.06 416.35,182.61 416.60,178.04 416.85,179.54 417.10,180.16 417.35,179.27 417.60,183.21 417.85,181.43 418.10,181.05 418.35,182.03 418.60,179.31 418.85,179.41 419.10,179.48 419.35,182.09 419.60,181.80 419.85,182.26 420.10,183.20 420.35,178.66 420.60,180.16 420.85,181.49 421.10,178.72 421.35,180.25 421.60,183.13 421.85,183.30 422.10,183.26 422.35,181.36 422.60,180.91 422.85,183.29 423.10,180.63 423.35,181.95 423.60,183.77 423.85,180.67 424.10,180.19 424.35,181.01 424.60,181.08 424.85,178.17 425.10,176.72 425.35,177.46 425.60,173.58 425.60,174.91 425.85,176.77 426.10,174.81 426.35,174.95 426.60,177.91 426.85,179.49 427.10,181.11 427.35,179.67 427.60,181.93 427.85,184.54 428.10,181.28 428.35,183.81 428.60,182.07 428.85,179.60 429.10,181.13 429.35,179.87 429.60,182.95 429.85,179.60 430.10,183.94 430.35,182.65 430.60,178.12 430.85,183.02 431.10,184.37 431.35,180.31 431.60,183.40 431.85,178.60 432.10,182.15 432.35,178.87 432.60,182.56 432.85,178.68 433.10,177.25 433.35,182.44 433.60,185.68 433.85,180.78 434.10,183.21 434.35,182.00 434.60,181.27 434.85,182.87 435.10,184.61 435.35,179.78 435.60,182.81 435.85,182.45 436.10,179.50 436.35,184.59 436.60,185.16 436.85,180.33 437.10,184.82 437.35,182.03 437.60,181.68 437.85,184.45 438.10,182.35 438.35,182.52 438.60,184.49 438.85,184.12 439.10,183.48 439.35,179.74 439.60,179.47 439.85,183.88 440.10,180.55 440.35,182.31 440.60,180.33 440.85,181.79 441.10,180.02 441.35,184.77 441.60,180.46 441.85,181.93 442.10,181.84 442.35,184.12 442.60,179.85 442.85,182.12 443.10,181.85 443.35,183.06 443.60,182.98 443.85,181.46 444.10,182.62 444.35,181.63 444.60,183.02 444.85,182.09 445.10,181.20 445.35,182.24 445.60,182.89 445.85,186.01 446.10,181.51 446.35,182.83 446.60,184.73 446.85,178.94 447.10,179.50 447.35,180.42 447.60,182.19 447.85,186.39 448.10,183.04 448.35,184.39 448.60,182.06 448.85,178.38 449.10,178.64 449.35,184.13 449.60,182.77 449.85,180.34 450.10,184.32 450.35,179.96 450.60,184.36 450.85,184.89 451.10,181.25 451.35,180.69 451.60,183.91 451.85,180.72 452.10,183.96 452.35,180.57 452.60,183.88 452.85,182.71 453.10,181.85 453.35,181.09 453.60,182.97 453.85,179.45 454.10,182.13 454.35,181.94 454.60,183.72 454.85,180.53 455.10,185.45 455.35,182.10 455.60,180.74 455.85,184.93 456.10,185.40 456.35,182.33 456.60,181.17 456.85,182.68 457.10,181.52 457.35,182.15 457.60,185.27 457.85,183.33 458.10,182.93 458.35,183.27 458.60,182.60 458.85,184.11 459.10,184.18 459.35,182.10 459.60,182.90 459.85,186.75 460.10,183.44 460.35,182.44 460.60,186.17 460.85,182.77 461.10,180.93 461.35,183.90 461.60,181.27 461.85,181.95 462.10,183.33 462.35,182.58 462.60,181.52 462.85,181.89 463.10,181.82 463.35,184.77 463.60,181.62 463.85,181.87 464.10,186.25 464.35,181.92 464.60,185.35 464.85,185.06 465.10,182.61 465.35,180.49 465.60,183.63 465.85,184.01 466.10,184.51 466.35,183.01 466.60,184.92 466.85,185.24 467.10,181.14 467.35,185.32 467.60,183.21 467.85,181.96 468.10,182.32 468.35,185.75 468.60,183.39 468.85,176.73 469.10,178.14 469.35,177.77 469.60,177.71 469.70,177.15 469.85,175.56 470.10,179.48 470.35,176.44 470.60,179.67 470.85,181.01 471.10,181.50 471.35,184.20 471.60,183.65 471.85,181.87 472.10,181.42 472.35,182.23 472.60,184.66 472.85,183.25 473.10,183.43 473.35,182.49 473.60,182.61 473.85,183.42 474.10,179.93 474.35,185.79 474.60,181.72 474.85,182.10 475.10,185.34 475.35,183.45 475.60,183.14 475.85,182.08 476.10,180.42 476.35,183.39 476.60,185.11 476.85,181.55 477.10,185.40 477.35,181.16 477.60,181.83 477.85,183.94 478.10,183.07 478.35,184.25 478.60,181.80 478.85,181.30 479.10,179.86 479.35,180.99 479.60,181.19 479.85,180.58 480.10,183.53 480.35,181.84 480.60,179.56 480.85,187.17 481.10,181.47 481.35,180.71 481.60,184.93 481.85,184.74 482.10,180.71 482.35,180.07 482.60,180.77 482.85,184.30 483.10,181.67 483.35,180.62 483.60,181.67 483.85,183.23 484.10,177.26 484.35,177.73 484.60,176.02 484.85,182.14 485.10,181.54 485.20,180.05 485.35,178.19 485.60,179.56 485.85,174.82 486.10,178.91 486.35,177.84 486.60,179.11 486.85,180.66 487.10,181.54 487.35,183.33 487.60,183.71 487.85,183.09 488.10,181.12 488.35,184.01 488.60,182.72 488.85,185.03 489.10,181.47 489.35,178.33 489.60,182.33 489.85,186.91 490.10,184.04 490.35,182.92 490.60,184.81 490.85,184.18 491.10,184.13 491.35,182.46 491.60,183.50 491.85,183.74 492.10,182.29 492.35,181.48 492.60,183.68 492.85,185.13 493.10,184.59 493.35,184.33 493.60,184.36 493.85,187.99 494.10,183.96 494.35,185.33 494.60,186.93 494.85,183.63 495.10,184.01 495.35,185.37 495.60,186.50 495.85,184.11 496.10,184.21 496.35,183.74 496.60,181.49 496.85,185.55 497.10,183.16 497.35,180.61 497.60,183.36 497.85,180.60 498.10,181.87 498.35,183.67 498.60,182.03 498.85,185.52 499.10,181.08 499.35,184.11 499.60,184.63 499.85,186.21 500.10,185.28 500.35,184.07 500.60,183.81 500.85,183.57 501.10,185.67 501.35,182.52 501.60,184.59 501.85,183.50 502.10,184.09 502.35,183.20 502.60,187.42 502.85,182.48 503.10,184.08 503.35,184.11 503.60,184.68 503.85,184.38 504.10,184.31 504.35,185.27 504.60,180.82 504.85,183.47 505.10,181.20 505.35,183.75 505.60,181.15 505.85,181.45 506.10,182.94 506.35,185.41 506.60,183.77 506.85,183.04 507.10,184.68 507.35,179.72 507.60,175.79 507.85,178.33 508.10,178.60 508.35,181.33 508.60,182.97 508.80,176.72 508.85,183.59 509.10,181.96 509.35,180.66 509.60,179.81 509.85,183.55 510.10,180.74 510.35,181.04 510.60,182.71 510.85,180.27 511.10,183.83 511.35,182.95 511.60,183.90 511.85,184.08 512.10,181.60 512.35,186.02 512.60,181.84 512.85,185.38 513.10,180.90 513.35,184.55 513.60,182.41 513.85,184.03 514.10,182.79 514.35,180.01 514.60,182.00 514.85,184.21 515.10,185.26 515.35,181.42 515.60,180.23 515.85,182.57 516.10,183.81 516.35,183.04 516.60,182.74 516.85,185.83 517.10,186.06 517.35,185.66 517.60,182.56 517.85,184.45 518.10,183.97 518.35,181.68 518.60,186.00 518.85,184.53 519.10,183.47 519.35,187.04 519.60,185.83 519.85,186.02 520.10,186.68 520.35,185.78 520.60,182.08 520.85,183.73 521.10,186.36 521.35,183.04 521.60,184.56 521.85,185.25 522.10,187.23 522.35,186.97 522.60,186.23 522.85,184.19 523.10,186.28 523.35,185.56 523.60,184.27 523.85,187.16 524.10,185.53 524.35,183.17 524.60,187.02 524.85,184.14 525.10,185.76 525.35,181.74 525.60,184.61 525.85,182.85 526.10,182.81 526.35,181.02 526.60,188.78 526.85,184.41 527.10,185.16 527.35,186.83 527.60,184.49 527.85,185.71 528.10,182.13 528.35,185.12 528.60,183.96 528.85,185.73 529.10,185.12 529.35,182.11 529.60,181.21 529.85,182.84 530.10,186.23 530.35,185.64 530.60,185.60 530.85,180.92 531.10,179.62 531.35,183.64 531.60,184.21 531.85,183.69 532.10,185.56 532.35,184.55 532.60,182.58 532.85,183.18 533.10,185.19 533.35,185.06 533.60,184.78 533.85,189.37 534.10,184.42 534.35,185.18 534.60,183.00 534.85,184.26 535.10,186.00 535.35,186.09 535.60,184.68 535.85,185.77 536.10,185.11 536.35,181.30 536.60,178.56 536.85,189.59 537.10,186.68 537.35,184.93 537.60,181.61 537.85,182.54 538.10,187.76 538.35,179.55 538.60,184.44 538.85,186.82 539.10,185.39 539.35,186.62 539.60,184.86 539.85,189.90 540.10,183.09 540.35,182.43" fill="none" stroke="#ff2020" stroke-width="0.4"/><polyline points="286.10,172.67 286.35,174.80 286.60,172.15 286.85,174.18 287.10,171.38 287.35,170.24 287.60,174.93 287.85,175.26 288.10,175.24 288.35,171.75 288.60,170.51 288.85,170.52 289.10,172.25 289.35,173.73 289.60,173.64 289.85,170.23 290.10,173.16 290.35,172.91 290.60,173.10 290.85,172.96 291.10,172.70 291.35,174.16 291.60,173.40 291.85,173.63 292.10,172.09 292.35,174.05 292.60,173.21 292.85,169.78 293.10,174.38 293.35,173.14 293.60,175.27 293.85,173.44 294.10,173.61 294.35,174.21 294.60,173.88 294.85,173.19 295.10,170.92 295.35,177.25 295.60,171.42 295.85,173.61 296.10,175.38 296.35,174.97 296.60,175.35 296.85,175.75 297.10,176.65 297.35,175.06 297.60,179.57 297.85,172.96 298.10,175.12 298.35,174.19 298.60,173.93 298.85,175.40 299.10,177.44 299.35,173.84 299.60,173.90 299.85,176.38 300.10,176.12 300.35,178.51 300.60,176.98 300.85,175.67 301.10,174.76 301.35,175.70 301.60,175.07 301.85,173.12 302.10,175.43 302.35,175.15 302.60,175.09 302.85,174.79 303.10,178.31 303.35,176.70 303.60,177.12 303.85,174.60 304.10,173.95 304.35,175.19 304.60,176.08 304.85,175.15 305.10,175.43 305.35,177.33 305.60,176.28 305.85,174.22 306.10,175.15 306.35,174.80 306.60,176.19 306.85,174.04 307.10,175.66 307.35,177.09 307.60,176.05 307.85,174.56 308.10,175.07 308.35,176.28 308.60,176.88 308.85,177.47 309.10,175.93 309.35,174.09 309.60,178.48 309.85,176.72 310.10,176.91 310.35,176.78 310.60,174.68 310.85,175.84 311.10,176.78 311.35,178.03 311.60,176.52 311.85,171.56 312.10,176.10 312.35,177.06 312.60,178.56 312.85,177.67 313.10,180.47 313.35,178.83 313.60,178.73 313.85,178.13 314.10,174.55 314.35,178.03 314.60,177.67 314.85,175.96 315.10,177.70 315.35,177.44 315.60,176.09 315.85,176.62 316.10,176.41 316.35,177.17 316.60,176.17 316.85,177.66 317.10,173.92 317.35,176.41 317.60,174.29 317.85,176.12 318.10,177.63 318.35,176.89 318.60,176.69 318.85,176.97 319.10,179.23 319.35,175.22 319.60,178.21 319.85,174.62 320.10,176.19 320.35,177.14 320.60,175.63 320.85,177.21 321.10,177.99 321.35,175.15 321.60,176.81 321.85,176.37 322.10,174.07 322.35,176.66 322.60,175.77 322.85,178.91 323.10,175.67 323.35,179.44 323.60,176.18 323.85,179.79 324.10,177.75 324.35,177.63 324.60,178.15 324.85,178.29 325.10,179.02 325.35,179.49 325.60,176.50 325.85,175.20 326.10,173.17 326.35,176.46 326.60,178.11 326.85,177.56 327.10,177.19 327.35,176.53 327.60,176.13 327.85,176.64 328.10,177.60 328.35,174.55 328.60,178.09 328.85,175.00 329.10,176.84 329.35,176.18 329.60,176.56 329.85,175.61 330.10,175.47 330.35,176.76 330.60,175.57 330.85,180.53 331.10,176.52 331.35,176.19 331.60,176.34 331.85,175.62 332.10,173.69 332.35,176.76 332.60,177.56 332.85,175.04 333.10,177.14 333.35,175.46 333.60,177.09 333.85,177.65 334.10,177.83 334.35,177.76 334.60,176.19 334.85,178.39 335.10,176.55 335.35,177.66 335.60,178.15 335.85,176.76 336.10,175.41 336.35,178.04 336.60,175.66 336.85,175.97 337.10,175.69 337.35,178.37 337.60,176.99 337.85,174.13 338.10,178.24 338.35,180.08 338.60,179.71 338.85,176.46 339.10,177.35 339.35,177.95 339.60,178.48 339.85,177.31 340.10,175.77 340.35,178.31 340.60,178.13 340.85,175.48 341.10,176.80 341.35,177.68 341.60,177.32 341.85,178.05 342.10,178.43 342.35,178.10 342.60,177.21 342.85,175.54 343.10,178.23 343.35,179.30 343.60,180.09 343.85,177.37 344.10,177.38 344.35,179.40 344.60,179.40 344.85,177.92 345.10,178.43 345.35,176.45 345.60,178.28 345.85,176.38 346.10,177.31 346.35,177.35 346.60,176.90 346.85,174.69 347.10,176.44 347.35,178.01 347.60,177.49 347.85,177.05 348.10,178.17 348.35,178.53 348.60,178.75 348.85,176.53 349.10,177.66 349.35,177.19 349.60,176.47 349.85,175.65 350.10,177.53 350.35,176.51 350.60,180.57 350.85,177.56 351.10,177.41 351.35,177.18 351.60,180.23 351.85,176.48 352.10,177.53 352.35,176.73 352.60,177.60 352.85,177.72 353.10,179.24 353.35,175.91 353.60,177.77 353.85,179.96 354.10,177.14 354.35,177.59 354.60,176.66 354.85,174.37 355.10,177.71 355.35,179.42 355.60,177.25 355.85,175.44 356.10,178.24 356.35,178.00 356.60,179.22 356.85,179.11 357.10,177.56 357.35,178.45 357.60,175.56 357.85,179.41 358.10,178.19 358.35,179.38 358.60,179.36 358.85,177.59 359.10,177.78 359.35,176.83 359.60,175.28 359.85,177.82 360.10,178.20 360.35,176.58 360.60,178.93 360.85,178.13 361.10,178.60 361.35,177.00 361.60,175.71 361.85,179.03 362.10,178.81 362.35,177.87 362.60,177.46 362.85,177.64 363.10,177.82 363.35,177.33 363.60,175.37 363.85,178.99 364.10,176.02 364.35,177.51 364.60,177.53 364.85,178.24 365.10,175.78 365.35,179.40 365.60,178.65 365.85,178.75 366.10,179.34 366.35,176.61 366.60,173.52 366.85,177.90 367.10,179.05 367.35,178.73 367.60,176.38 367.85,176.75 368.10,176.99 368.35,173.99 368.60,175.02 368.85,174.24 369.10,175.58 369.35,172.73 369.60,175.59 369.85,173.61 370.10,171.45 370.35,176.44 370.40,172.36 370.60,174.39 370.85,175.79 371.10,172.93 371.35,172.04 371.60,174.94 371.85,174.63 372.10,174.13 372.35,174.86 372.60,176.10 372.85,178.11 373.10,176.74 373.35,178.13 373.60,179.55 373.85,179.19 374.10,179.52 374.35,179.35 374.60,175.83 374.85,179.48 375.10,178.41 375.35,177.89 375.60,176.72 375.85,176.12 376.10,176.76 376.35,178.17 376.60,176.74 376.85,177.22 377.10,177.49 377.35,179.12 377.60,177.93 377.85,178.13 378.10,180.00 378.35,177.94 378.60,179.10 378.85,177.04 379.10,178.78 379.35,178.53 379.60,178.60 379.85,177.80 380.10,177.10 380.35,178.02 380.60,177.81 380.85,179.69 381.10,179.53 381.35,176.90 381.60,179.18 381.85,177.80 382.10,178.96 382.35,177.79 382.60,176.55 382.85,179.63 383.10,178.93 383.35,176.84 383.60,176.00 383.85,177.67 384.10,176.86 384.35,177.86 384.60,179.06 384.85,180.09 385.10,177.81 385.35,179.93 385.60,179.64 385.85,177.64 386.10,176.08 386.35,179.15 386.60,178.81 386.85,180.91 387.10,179.71 387.35,178.86 387.60,179.90 387.85,176.46 388.10,177.89 388.35,177.21 388.60,179.56 388.85,177.97 389.10,173.37 389.35,178.59 389.60,175.57 389.85,177.34 390.10,175.48 390.35,175.97 390.60,175.97 390.85,174.82 391.10,172.76 391.35,175.65 391.60,174.46 391.85,173.98 392.10,174.88 392.35,173.40 392.60,176.37 392.85,174.38 392.90,174.55 393.10,174.55 393.35,173.05 393.60,172.76 393.85,174.47 394.10,174.66 394.35,175.88 394.60,174.83 394.85,173.37 395.10,176.06 395.35,177.00 395.60,177.69 395.85,177.28 396.10,175.75 396.35,178.89 396.60,176.86 396.85,178.64 397.10,176.25 397.35,179.21 397.60,177.49 397.85,179.85 398.10,180.75 398.35,180.00 398.60,176.82 398.85,175.89 399.10,173.69 399.35,175.55 399.60,175.19 399.80,174.99 399.85,175.17 400.10,175.52 400.35,175.63 400.60,178.14 400.85,178.10 401.10,179.36 401.35,177.28 401.60,178.03 401.85,178.83 402.10,178.30 402.35,179.99 402.60,180.99 402.85,179.30 403.10,179.28 403.35,179.29 403.60,180.07 403.85,179.32 404.10,180.48 404.35,180.37 404.60,180.45 404.85,180.97 405.10,180.16 405.35,180.32 405.60,182.21 405.85,180.16 406.10,181.16 406.35,180.34 406.60,179.78 406.85,179.81 407.10,179.43 407.35,180.41 407.60,179.73 407.85,179.97 408.10,181.86 408.35,180.36 408.60,181.82 408.85,180.86 409.10,181.56 409.35,179.93 409.60,180.81 409.85,183.63 410.10,181.62 410.35,181.83 410.60,180.98 410.85,181.69 411.10,179.46 411.35,179.82 411.60,181.25 411.85,181.69 412.10,180.35 412.35,180.60 412.60,180.42 412.85,180.63 413.10,179.53 413.35,179.29 413.60,180.78 413.85,178.98 414.10,179.82 414.35,180.18 414.60,179.77 414.85,181.18 415.10,180.45 415.35,180.86 415.60,179.87 415.85,180.17 416.10,181.53 416.35,181.38 416.60,180.50 416.85,181.40 417.10,181.22 417.35,181.20 417.60,182.74 417.85,180.63 418.10,181.51 418.35,181.52 418.60,180.84 418.85,179.86 419.10,181.84 419.35,181.39 419.60,181.18 419.85,181.16 420.10,181.17 420.35,180.22 420.60,181.47 420.85,179.30 421.10,181.16 421.35,179.64 421.60,180.84 421.85,181.96 422.10,180.96 422.35,180.74 422.60,181.78 422.85,180.98 423.10,180.85 423.35,180.88 423.60,182.84 423.85,181.97 424.10,181.74 424.35,179.76 424.60,180.57 424.85,175.92 425.10,176.87 425.35,175.27 425.60,178.38 425.60,174.70 425.85,177.65 426.10,177.23 426.35,175.51 426.60,179.78 426.85,182.52 427.10,182.51 427.35,179.78 427.60,180.94 427.85,180.30 428.10,180.46 428.35,180.85 428.60,183.32 428.85,181.64 429.10,181.30 429.35,181.20 429.60,182.20 429.85,182.23 430.10,180.66 430.35,183.01 430.60,180.53 430.85,181.33 431.10,182.05 431.35,183.28 431.60,181.29 431.85,181.92 432.10,182.91 432.35,182.26 432.60,182.76 432.85,182.68 433.10,181.94 433.35,182.31 433.60,182.59 433.85,181.70 434.10,183.26 434.35,179.86 434.60,180.89 434.85,183.14 435.10,182.19 435.35,181.19 435.60,182.16 435.85,182.84 436.10,181.30 436.35,182.56 436.60,181.73 436.85,181.75 437.10,181.81 437.35,182.91 437.60,180.85 437.85,181.56 438.10,182.53 438.35,180.80 438.60,180.48 438.85,182.47 439.10,181.96 439.35,181.83 439.60,182.11 439.85,181.10 440.10,184.65 440.35,181.12 440.60,181.63 440.85,180.74 441.10,181.66 441.35,183.45 441.60,182.08 441.85,182.62 442.10,181.65 442.35,183.75 442.60,182.26 442.85,180.98 443.10,182.83 443.35,181.80 443.60,182.71 443.85,182.29 444.10,182.41 444.35,182.31 444.60,181.36 444.85,180.83 445.10,183.11 445.35,182.10 445.60,182.50 445.85,181.82 446.10,180.40 446.35,181.10 446.60,183.56 446.85,181.57 447.10,181.95 447.35,180.96 447.60,181.83 447.85,181.99 448.10,182.14 448.35,182.28 448.60,181.78 448.85,181.84 449.10,182.37 449.35,182.69 449.60,182.27 449.85,184.02 450.10,182.61 450.35,182.58 450.60,181.83 450.85,183.39 451.10,181.50 451.35,180.96 451.60,181.56 451.85,183.04 452.10,181.41 452.35,183.67 452.60,182.46 452.85,181.09 453.10,182.28 453.35,184.15 453.60,181.71 453.85,181.30 454.10,183.00 454.35,183.74 454.60,183.48 454.85,182.23 455.10,182.72 455.35,182.85 455.60,183.65 455.85,184.56 456.10,182.47 456.35,183.78 456.60,182.26 456.85,183.14 457.10,181.73 457.35,181.89 457.60,183.00 457.85,181.78 458.10,183.45 458.35,182.12 458.60,182.71 458.85,182.56 459.10,182.34 459.35,182.78 459.60,183.67 459.85,185.56 460.10,181.56 460.35,182.96 460.60,182.52 460.85,181.84 461.10,182.96 461.35,181.88 461.60,182.64 461.85,183.88 462.10,180.83 462.35,182.96 462.60,183.15 462.85,181.84 463.10,183.24 463.35,183.08 463.60,182.43 463.85,183.90 464.10,181.54 464.35,183.38 464.60,182.56 464.85,181.80 465.10,182.63 465.35,182.47 465.60,183.58 465.85,181.41 466.10,182.64 466.35,182.40 466.60,184.31 466.85,181.78 467.10,183.84 467.35,181.19 467.60,183.17 467.85,182.71 468.10,183.14 468.35,181.85 468.60,179.82 468.85,178.21 469.10,179.16 469.35,178.13 469.60,177.12 469.70,178.79 469.85,177.24 470.10,177.25 470.35,176.80 470.60,181.33 470.85,183.80 471.10,181.74 471.35,183.14 471.60,183.84 471.85,184.93 472.10,180.66 472.35,183.07 472.60,183.55 472.85,181.54 473.10,183.34 473.35,183.14 473.60,183.64 473.85,182.41 474.10,183.36 474.35,182.39 474.60,183.55 474.85,183.12 475.10,182.62 475.35,181.63 475.60,184.55 475.85,184.04 476.10,183.82 476.35,182.35 476.60,182.65 476.85,184.58 477.10,183.70 477.35,182.18 477.60,183.03 477.85,183.12 478.10,182.79 478.35,182.08 478.60,184.17 478.85,183.53 479.10,182.77 479.35,181.45 479.60,182.38 479.85,182.92 480.10,183.74 480.35,182.54 480.60,183.93 480.85,182.98 481.10,182.10 481.35,180.10 481.60,181.60 481.85,181.24 482.10,182.45 482.35,182.83 482.60,183.75 482.85,182.27 483.10,181.02 483.35,184.19 483.60,181.95 483.85,180.83 484.10,179.32 484.35,177.02 484.60,178.94 484.85,178.69 485.10,179.87 485.20,179.41 485.35,179.19 485.60,179.57 485.85,178.09 486.10,177.94 486.35,180.03 486.60,180.12 486.85,181.67 487.10,181.76 487.35,182.93 487.60,182.43 487.85,180.74 488.10,182.72 488.35,184.16 488.60,181.10 488.85,182.21 489.10,183.02 489.35,181.77 489.60,182.56 489.85,183.19 490.10,181.89 490.35,183.49 490.60,183.63 490.85,182.03 491.10,183.31 491.35,184.35 491.60,183.15 491.85,183.77 492.10,183.99 492.35,183.15 492.60,184.35 492.85,183.78 493.10,182.46 493.35,183.94 493.60,184.29 493.85,184.24 494.10,182.84 494.35,183.93 494.60,184.83 494.85,183.73 495.10,184.67 495.35,184.79 495.60,183.49 495.85,184.18 496.10,183.26 496.35,184.60 496.60,183.47 496.85,183.03 497.10,183.55 497.35,183.51 497.60,183.96 497.85,184.05 498.10,182.46 498.35,182.97 498.60,183.96 498.85,184.08 499.10,183.70 499.35,186.20 499.60,184.72 499.85,183.55 500.10,184.35 500.35,184.95 500.60,184.00 500.85,181.93 501.10,183.74 501.35,183.70 501.60,185.75 501.85,181.83 502.10,185.17 502.35,183.48 502.60,184.55 502.85,183.34 503.10,183.79 503.35,184.73 503.60,183.67 503.85,184.62 504.10,183.46 504.35,183.11 504.60,183.26 504.85,182.94 505.10,183.27 505.35,184.68 505.60,182.08 505.85,181.49 506.10,183.02 506.35,184.59 506.60,183.78 506.85,183.83 507.10,183.41 507.35,180.68 507.60,179.66 507.85,176.40 508.10,178.48 508.35,179.71 508.60,177.54 508.80,177.04 508.85,177.81 509.10,179.35 509.35,180.32 509.60,181.77 509.85,180.61 510.10,179.06 510.35,179.55 510.60,182.61 510.85,183.84 511.10,181.34 511.35,182.63 511.60,182.86 511.85,183.48 512.10,183.36 512.35,184.17 512.60,184.80 512.85,183.86 513.10,184.61 513.35,185.94 513.60,182.90 513.85,182.91 514.10,184.55 514.35,185.97 514.60,184.26 514.85,185.25 515.10,183.83 515.35,185.12 515.60,183.55 515.85,184.92 516.10,184.65 516.35,184.67 516.60,185.71 516.85,185.41 517.10,183.70 517.35,185.26 517.60,182.59 517.85,185.41 518.10,187.26 518.35,184.96 518.60,184.96 518.85,184.51 519.10,185.33 519.35,184.00 519.60,185.19 519.85,184.22 520.10,184.07 520.35,184.66 520.60,184.48 520.85,182.73 521.10,186.76 521.35,184.73 521.60,182.81 521.85,185.74 522.10,184.59 522.35,184.84 522.60,185.39 522.85,183.70 523.10,181.54 523.35,184.56 523.60,184.94 523.85,185.75 524.10,183.90 524.35,184.43 524.60,185.14 524.85,184.39 525.10,184.47 525.35,185.02 525.60,183.70 525.85,186.46 526.10,183.79 526.35,184.83 526.60,184.44 526.85,184.05 527.10,185.39 527.35,185.91 527.60,186.40 527.85,185.47 528.10,184.37 528.35,185.79 528.60,183.31 528.85,184.93 529.10,185.45 529.35,185.50 529.60,183.65 529.85,183.29 530.10,186.71 530.35,184.37 530.60,183.14 530.85,183.59 531.10,184.96 531.35,186.23 531.60,184.95 531.85,186.27 532.10,185.22 532.35,185.49 532.60,186.06 532.85,184.58 533.10,185.32 533.35,184.58 533.60,184.32 533.85,185.74 534.10,184.13 534.35,185.12 534.60,184.18 534.85,184.95 535.10,184.48 535.35,186.27 535.60,185.16 535.85,185.16 536.10,186.90 536.35,181.89 536.60,183.86 536.85,182.07 537.10,185.10 537.35,185.59 537.60,185.83 537.85,185.42 538.10,184.16 538.35,187.08 538.60,185.48 538.85,184.86 539.10,183.91 539.35,185.63 539.60,184.62 539.85,184.67 540.10,185.41 540.35,185.43" fill="none" stroke="#ff0000" stroke-width="0.75"/><polygon points="367.60,177.08 367.85,176.88 368.10,176.63 368.35,176.32 368.60,175.88 368.85,175.07 369.10,173.11 369.35,168.27 369.60,158.32 369.85,142.83 370.10,126.31 370.35,117.23 370.40,116.94 370.60,121.32 370.85,135.92 371.10,152.69 371.35,165.04 371.60,171.69 371.85,174.54 372.10,175.69 372.35,176.24 372.60,176.60 372.85,176.88 373.10,177.11 373.35,177.30 373.35,178.63 373.10,178.63 372.85,178.63 372.60,178.63 372.35,178.62 372.10,178.62 371.85,178.62 371.60,178.62 371.35,178.61 371.10,178.61 370.85,178.61 370.60,178.61 370.40,178.60 370.35,178.60 370.10,178.60 369.85,178.59 369.60,178.58 369.35,178.57 369.10,178.56 368.85,178.55 368.60,178.54 368.35,178.53 368.10,178.52 367.85,178.51 367.60,178.50" fill="#ff6874" stroke="#ff6874" stroke-width="0.5" stroke-linejoin="round"/><polygon points="390.10,176.05 390.35,175.66 390.60,175.18 390.85,174.57 391.10,173.66 391.35,171.85 391.60,167.18 391.85,155.30 392.10,130.48 392.35,91.64 392.60,50.12 392.85,27.28 392.90,26.57 393.10,37.59 393.35,74.34 393.60,116.46 393.85,147.38 394.10,163.87 394.35,170.81 394.60,173.46 394.85,174.66 395.10,175.41 395.35,175.98 395.60,176.46 395.85,176.86 395.85,179.39 395.60,179.36 395.35,179.34 395.10,179.31 394.85,179.28 394.60,179.26 394.35,179.24 394.10,179.21 393.85,179.19 393.60,179.16 393.35,179.14 393.10,179.11 392.90,179.09 392.85,179.09 392.60,179.06 392.35,179.03 392.10,179.01 391.85,178.99 391.60,178.96 391.35,178.94 391.10,178.91 390.85,178.89 390.60,178.86 390.35,178.84 390.10,178.81" fill="#ff6874" stroke="#ff6874" stroke-width="0.5" stroke-linejoin="round"/><polygon points="396.85,177.93 397.10,178.11 397.35,178.27 397.60,178.41 397.85,178.53 398.10,178.62 398.35,178.58 398.60,178.19 398.85,177.00 399.10,174.60 399.35,171.23 399.60,168.29 399.80,167.43 399.85,167.50 400.10,169.45 400.35,172.91 400.60,176.12 400.85,178.15 401.10,179.10 401.35,179.45 401.60,179.57 401.85,179.63 402.10,179.68 402.35,179.72 402.60,179.76 402.60,180.06 402.35,180.03 402.10,180.01 401.85,179.99 401.60,179.96 401.35,179.94 401.10,179.91 400.85,179.89 400.60,179.86 400.35,179.84 400.10,179.81 399.85,179.78 399.80,179.78 399.60,179.76 399.35,179.74 399.10,179.71 398.85,179.69 398.60,179.66 398.35,179.64 398.10,179.61 397.85,179.59 397.60,179.56 397.35,179.53 397.10,179.51 396.85,179.49" fill="#ff6874" stroke="#ff6874" stroke-width="0.5" stroke-linejoin="round"/><polygon points="422.85,181.31 423.10,181.32 423.35,181.33 423.60,181.34 423.85,181.34 424.10,181.30 424.35,181.03 424.60,179.99 424.85,177.29 425.10,172.53 425.35,167.31 425.60,164.97 425.60,164.97 425.85,167.33 426.10,172.57 426.35,177.36 426.60,180.08 426.85,181.14 427.10,181.43 427.35,181.50 427.60,181.52 427.85,181.53 428.10,181.54 428.35,181.55 428.60,181.56 428.60,181.59 428.35,181.58 428.10,181.57 427.85,181.56 427.60,181.55 427.35,181.54 427.10,181.53 426.85,181.52 426.60,181.51 426.35,181.49 426.10,181.48 425.85,181.47 425.60,181.46 425.60,181.46 425.35,181.45 425.10,181.44 424.85,181.43 424.60,181.42 424.35,181.41 424.10,181.40 423.85,181.39 423.60,181.38 423.35,181.37 423.10,181.36 422.85,181.35" fill="#ff6874" stroke="#ff6874" stroke-width="0.5" stroke-linejoin="round"/><polygon points="466.85,182.90 467.10,182.91 467.35,182.92 467.60,182.92 467.85,182.91 468.10,182.85 468.35,182.58 468.60,181.73 468.85,179.74 469.10,176.33 469.35,172.31 469.60,169.62 469.70,169.36 469.85,169.96 470.10,173.09 470.35,177.14 470.60,180.29 470.85,182.03 471.10,182.73 471.35,182.94 471.60,183.00 471.85,183.01 472.10,183.02 472.35,183.02 472.60,183.03 472.60,183.09 472.35,183.08 472.10,183.07 471.85,183.07 471.60,183.06 471.35,183.06 471.10,183.05 470.85,183.04 470.60,183.04 470.35,183.03 470.10,183.02 469.85,183.02 469.70,183.01 469.60,183.01 469.35,183.00 469.10,183.00 468.85,182.99 468.60,182.98 468.35,182.98 468.10,182.97 467.85,182.96 467.60,182.96 467.35,182.95 467.10,182.94 466.85,182.94" fill="#ff6874" stroke="#ff6874" stroke-width="0.5" stroke-linejoin="round"/><polygon points="482.35,182.59 482.60,182.49 482.85,182.36 483.10,182.20 483.35,182.00 483.60,181.72 483.85,181.16 484.10,179.65 484.35,175.72 484.60,168.00 484.85,157.76 485.10,150.43 485.20,149.68 485.35,151.36 485.60,159.82 485.85,169.88 486.10,176.83 486.35,180.14 486.60,181.39 486.85,181.87 487.10,182.14 487.35,182.34 487.60,182.51 487.85,182.64 488.10,182.75 488.10,183.49 487.85,183.48 487.60,183.48 487.35,183.47 487.10,183.46 486.85,183.46 486.60,183.45 486.35,183.45 486.10,183.44 485.85,183.43 485.60,183.43 485.35,183.42 485.20,183.42 485.10,183.41 484.85,183.41 484.60,183.40 484.35,183.39 484.10,183.39 483.85,183.38 483.60,183.37 483.35,183.37 483.10,183.36 482.85,183.35 482.60,183.35 482.35,183.34" fill="#ff6874" stroke="#ff6874" stroke-width="0.5" stroke-linejoin="round"/><polygon points="505.85,183.14 506.10,183.03 506.35,182.89 506.60,182.72 506.85,182.49 507.10,182.14 507.35,181.39 507.60,179.52 507.85,175.16 508.10,167.05 508.35,156.04 508.60,146.45 508.80,143.58 508.85,143.77 509.10,149.75 509.35,160.63 509.60,170.82 509.85,177.38 510.10,180.57 510.35,181.88 510.60,182.43 510.85,182.73 511.10,182.95 511.35,183.13 511.60,183.27 511.60,184.19 511.35,184.18 511.10,184.17 510.85,184.17 510.60,184.16 510.35,184.15 510.10,184.14 509.85,184.13 509.60,184.12 509.35,184.12 509.10,184.11 508.85,184.10 508.80,184.10 508.60,184.09 508.35,184.08 508.10,184.07 507.85,184.06 507.60,184.06 507.35,184.05 507.10,184.04 506.85,184.03 506.60,184.02 506.35,184.01 506.10,184.01 505.85,184.00" fill="#ff6874" stroke="#ff6874" stroke-width="0.5" stroke-linejoin="round"/>
<line x1="370.4" y1="190.3" x2="370.4" y2="209.9" stroke="#3a3a3a" stroke-width="1.1"/><line x1="393.2" y1="167.7" x2="393.2" y2="209.9" stroke="#3a3a3a" stroke-width="1.1"/><line x1="399.7" y1="205" x2="399.7" y2="209.9" stroke="#3a3a3a" stroke-width="1.1"/><line x1="426" y1="201.7" x2="426" y2="209.9" stroke="#3a3a3a" stroke-width="1.1"/><line x1="469.7" y1="199" x2="469.7" y2="209.9" stroke="#3a3a3a" stroke-width="1.1"/><line x1="485.1" y1="192.2" x2="485.1" y2="209.9" stroke="#3a3a3a" stroke-width="1.1"/><line x1="508.8" y1="175" x2="508.8" y2="209.9" stroke="#777" stroke-width="1.1"/>
<path d="M285.2,213.2 V7.2 H541.4 V213.2" fill="none" stroke="#5e5e5e" stroke-width="1.5"/>
<line x1="285.2" y1="6.5" x2="285.2" y2="213.79999999999998" stroke="#8a8a8a" stroke-width="1.6"/>
<line x1="284.5" y1="213.2" x2="542.1" y2="213.2" stroke="#5a5a5a" stroke-width="1.2"/>
<line x1="285.20" y1="213.2" x2="285.20" y2="217.7" stroke="#555" stroke-width="1"/><line x1="306.55" y1="213.2" x2="306.55" y2="215.2" stroke="#555" stroke-width="1"/><line x1="327.90" y1="213.2" x2="327.90" y2="217.7" stroke="#555" stroke-width="1"/><line x1="349.25" y1="213.2" x2="349.25" y2="215.2" stroke="#555" stroke-width="1"/><line x1="370.60" y1="213.2" x2="370.60" y2="217.7" stroke="#555" stroke-width="1"/><line x1="391.95" y1="213.2" x2="391.95" y2="215.2" stroke="#555" stroke-width="1"/><line x1="413.30" y1="213.2" x2="413.30" y2="217.7" stroke="#555" stroke-width="1"/><line x1="434.65" y1="213.2" x2="434.65" y2="215.2" stroke="#555" stroke-width="1"/><line x1="456.00" y1="213.2" x2="456.00" y2="217.7" stroke="#555" stroke-width="1"/><line x1="477.35" y1="213.2" x2="477.35" y2="215.2" stroke="#555" stroke-width="1"/><line x1="498.70" y1="213.2" x2="498.70" y2="217.7" stroke="#555" stroke-width="1"/><line x1="520.05" y1="213.2" x2="520.05" y2="215.2" stroke="#555" stroke-width="1"/><line x1="541.40" y1="213.2" x2="541.40" y2="217.7" stroke="#555" stroke-width="1"/>
<text x="285.20" y="227.2" text-anchor="middle" class="bt">10</text><text x="327.90" y="227.2" text-anchor="middle" class="bt">20</text><text x="370.60" y="227.2" text-anchor="middle" class="bt">30</text><text x="413.30" y="227.2" text-anchor="middle" class="bt">40</text><text x="456.00" y="227.2" text-anchor="middle" class="bt">50</text><text x="498.70" y="227.2" text-anchor="middle" class="bt">60</text><text x="541.40" y="227.2" text-anchor="middle" class="bt">70</text>
<text x="359.9" y="241.2" style="font-size:13px;font-weight:bold" fill="#111">2 Theta(degree)</text>
<text x="0" y="0" style="font-size:14.6px;font-weight:bold" fill="#111" transform="translate(271.6,156.6) rotate(-90)">Intensity (a.u.)</text>
<text x="0" y="0" style="font-size:14.5px;font-weight:bold" fill="#000" transform="translate(519.3,29.1) scale(0.87,1)">B</text>
<text x="393.4" y="22.9" text-anchor="middle" class="lb">(311)</text>
<text x="367.6" y="112.7" text-anchor="middle" class="lb">(220)</text>
<text x="404.7" y="162.0" text-anchor="middle" class="lb">(222)</text>
<text x="428.7" y="161.7" text-anchor="middle" class="lb">(400)</text>
<text x="465.4" y="167.7" text-anchor="middle" class="lb">(422)</text>
<text x="481.3" y="148.7" text-anchor="middle" class="lb">(511)</text>
<text x="509.3" y="140.1" text-anchor="middle" class="lb">(440)</text>
<text x="290.5" y="193.8" style="font-size:7.6px;font-weight:bold" fill="#333">Fe<tspan font-size="5.2" dy="1.3">2</tspan><tspan dy="-1.3">GeO</tspan><tspan font-size="5.2" dy="1.3">4</tspan></text>
<text x="290.5" y="204.4" style="font-size:7.35px;font-weight:bold" fill="#333">(JCPDS No.25-0359)</text>
<line x1="250" y1="245.7" x2="550" y2="245.7" stroke="#f3f3f3" stroke-width="1"/>
</g>
</svg>
</body></html>
